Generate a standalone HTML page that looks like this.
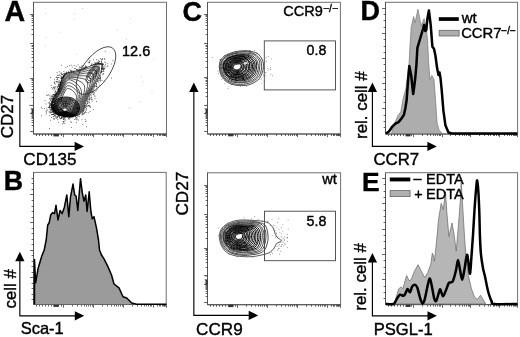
<!DOCTYPE html>
<html><head><meta charset="utf-8"><title>Figure</title>
<style>
html,body{margin:0;padding:0;background:#fff;}
svg{display:block;will-change:transform;}
text{font-family:"Liberation Sans",Arial,Helvetica,sans-serif;fill:#000;stroke:#000;stroke-width:0.4px;}
</style></head><body>
<svg width="520" height="337" viewBox="0 0 520 337">
<rect width="520" height="337" fill="#fff"/>
<rect x="33.5" y="2.3" width="133.0" height="131.7" fill="none" stroke="#707070" stroke-width="1"/><path d="M33.5 2.3V134.0H166.5" fill="none" stroke="#555" stroke-width="1"/>
<g stroke="#3a3a3a" stroke-width="0.8" fill="none"><path d="M33.5 14.5H30.1"/><path d="M33.5 43.5H30.1"/><path d="M33.5 78.5H30.1"/><path d="M33.5 105.5H30.1"/><path d="M33.5 34.5H31.6"/><path d="M33.5 29.5H31.6"/><path d="M33.5 25.5H31.6"/><path d="M33.5 22.5H31.6"/><path d="M33.5 20.5H31.6"/><path d="M33.5 18.5H31.6"/><path d="M33.5 16.5H31.6"/><path d="M33.5 15.5H31.6"/><path d="M33.5 67.5H31.6"/><path d="M33.5 61.5H31.6"/><path d="M33.5 57.5H31.6"/><path d="M33.5 54.5H31.6"/><path d="M33.5 51.5H31.6"/><path d="M33.5 48.5H31.6"/><path d="M33.5 46.5H31.6"/><path d="M33.5 45.5H31.6"/><path d="M33.5 97.5H31.6"/><path d="M33.5 92.5H31.6"/><path d="M33.5 89.5H31.6"/><path d="M33.5 86.5H31.6"/><path d="M33.5 84.5H31.6"/><path d="M33.5 82.5H31.6"/><path d="M33.5 80.5H31.6"/><path d="M33.5 79.5H31.6"/></g>
<path d="M30.2 108.6h3.4v4.8h-3.4l1.4-1.2v-2.4z" fill="#333"/><path d="M31.5 105.3h2.3" stroke="#555" stroke-width="0.7"/>
<g stroke="#3a3a3a" stroke-width="0.8" fill="none"><path d="M33.5 113.5H30.1"/><path d="M33.5 131.5H30.1"/><path d="M33.5 125.5H31.6"/><path d="M33.5 122.5H31.6"/><path d="M33.5 120.5H31.6"/><path d="M33.5 118.5H31.6"/><path d="M33.5 117.5H31.6"/><path d="M33.5 116.5H31.6"/><path d="M33.5 115.5H31.6"/><path d="M33.5 114.5H31.6"/></g>
<g stroke="#3a3a3a" stroke-width="0.75" fill="none"><path d="M63.5 134.0V137.2"/><path d="M93.5 134.0V137.2"/><path d="M123.5 134.0V137.2"/><path d="M153.5 134.0V137.2"/><path d="M166.5 134.0V137.2"/><path d="M72.5 134.0V136.0"/><path d="M77.5 134.0V136.0"/><path d="M81.5 134.0V136.0"/><path d="M84.5 134.0V136.0"/><path d="M86.5 134.0V136.0"/><path d="M88.5 134.0V136.0"/><path d="M90.5 134.0V136.0"/><path d="M92.5 134.0V136.0"/><path d="M102.5 134.0V136.0"/><path d="M107.5 134.0V136.0"/><path d="M111.5 134.0V136.0"/><path d="M114.5 134.0V136.0"/><path d="M116.5 134.0V136.0"/><path d="M118.5 134.0V136.0"/><path d="M120.5 134.0V136.0"/><path d="M122.5 134.0V136.0"/><path d="M132.5 134.0V136.0"/><path d="M137.5 134.0V136.0"/><path d="M141.5 134.0V136.0"/><path d="M144.5 134.0V136.0"/><path d="M146.5 134.0V136.0"/><path d="M148.5 134.0V136.0"/><path d="M150.5 134.0V136.0"/><path d="M151.5 134.0V136.0"/><path d="M157.5 134.0V136.0"/><path d="M159.5 134.0V136.0"/><path d="M160.5 134.0V136.0"/><path d="M162.5 134.0V136.0"/><path d="M163.5 134.0V136.0"/><path d="M164.5 134.0V136.0"/><path d="M164.5 134.0V136.0"/><path d="M165.5 134.0V136.0"/></g>
<rect x="53.4" y="134" width="5.5" height="2.4" fill="#333"/>
<g stroke="#3a3a3a" stroke-width="0.8"><path d="M36.5 134v2"/><path d="M39.5 134v2"/><path d="M42.5 134v2"/><path d="M45.5 134v2"/><path d="M48.5 134v2"/><path d="M51.5 134v2"/><path d="M61.5 134v2"/></g>
<g fill="#333"><rect x="97.0" y="62.8" width="0.8" height="0.8"/><rect x="55.3" y="116.0" width="0.8" height="0.8"/><rect x="104.4" y="59.2" width="0.8" height="0.8"/><rect x="58.5" y="84.2" width="0.8" height="0.8"/><rect x="50.4" y="110.2" width="0.8" height="0.8"/><rect x="53.0" y="111.2" width="0.8" height="0.8"/><rect x="63.0" y="73.4" width="0.8" height="0.8"/><rect x="53.4" y="113.1" width="0.8" height="0.8"/><rect x="57.8" y="75.1" width="0.8" height="0.8"/><rect x="82.8" y="67.0" width="0.8" height="0.8"/><rect x="69.9" y="121.4" width="0.8" height="0.8"/><rect x="55.5" y="90.9" width="0.8" height="0.8"/><rect x="58.6" y="81.7" width="0.8" height="0.8"/><rect x="49.6" y="108.4" width="0.8" height="0.8"/><rect x="89.0" y="98.8" width="0.8" height="0.8"/><rect x="96.2" y="59.4" width="0.8" height="0.8"/><rect x="101.2" y="60.6" width="0.8" height="0.8"/><rect x="61.4" y="77.9" width="0.8" height="0.8"/><rect x="89.5" y="102.6" width="0.8" height="0.8"/><rect x="84.1" y="68.2" width="0.8" height="0.8"/><rect x="86.2" y="109.6" width="0.8" height="0.8"/><rect x="55.9" y="92.0" width="0.8" height="0.8"/><rect x="49.6" y="106.8" width="0.8" height="0.8"/><rect x="91.6" y="64.9" width="0.8" height="0.8"/><rect x="89.7" y="97.7" width="0.8" height="0.8"/><rect x="49.9" y="105.3" width="0.8" height="0.8"/><rect x="49.8" y="112.2" width="0.8" height="0.8"/><rect x="63.2" y="121.2" width="0.8" height="0.8"/><rect x="87.8" y="62.3" width="0.8" height="0.8"/><rect x="97.8" y="62.4" width="0.8" height="0.8"/><rect x="57.2" y="87.2" width="0.8" height="0.8"/><rect x="61.1" y="80.2" width="0.8" height="0.8"/><rect x="58.8" y="71.3" width="0.8" height="0.8"/><rect x="92.3" y="91.5" width="0.8" height="0.8"/><rect x="79.3" y="114.0" width="0.8" height="0.8"/><rect x="97.9" y="79.7" width="0.8" height="0.8"/><rect x="99.6" y="80.0" width="0.8" height="0.8"/><rect x="101.2" y="71.4" width="0.8" height="0.8"/><rect x="54.9" y="90.6" width="0.8" height="0.8"/><rect x="59.9" y="117.8" width="0.8" height="0.8"/><rect x="69.2" y="72.1" width="0.8" height="0.8"/><rect x="78.8" y="116.4" width="0.8" height="0.8"/><rect x="54.5" y="93.6" width="0.8" height="0.8"/><rect x="51.0" y="117.0" width="0.8" height="0.8"/><rect x="78.5" y="115.5" width="0.8" height="0.8"/><rect x="51.3" y="101.3" width="0.8" height="0.8"/><rect x="59.5" y="84.4" width="0.8" height="0.8"/><rect x="55.3" y="90.9" width="0.8" height="0.8"/><rect x="51.0" y="104.2" width="0.8" height="0.8"/><rect x="51.3" y="98.3" width="0.8" height="0.8"/><rect x="49.2" y="106.3" width="0.8" height="0.8"/><rect x="47.5" y="95.2" width="0.8" height="0.8"/><rect x="99.3" y="63.9" width="0.8" height="0.8"/><rect x="87.3" y="102.7" width="0.8" height="0.8"/><rect x="89.9" y="94.0" width="0.8" height="0.8"/><rect x="95.4" y="63.1" width="0.8" height="0.8"/><rect x="58.2" y="88.1" width="0.8" height="0.8"/><rect x="86.2" y="108.4" width="0.8" height="0.8"/><rect x="58.4" y="115.9" width="0.8" height="0.8"/><rect x="51.0" y="106.4" width="0.8" height="0.8"/><rect x="102.2" y="63.6" width="0.8" height="0.8"/><rect x="61.4" y="72.5" width="0.8" height="0.8"/><rect x="95.1" y="62.8" width="0.8" height="0.8"/><rect x="57.5" y="77.3" width="0.8" height="0.8"/><rect x="61.3" y="76.5" width="0.8" height="0.8"/><rect x="54.4" y="118.2" width="0.8" height="0.8"/><rect x="93.0" y="94.1" width="0.8" height="0.8"/><rect x="104.3" y="58.2" width="0.8" height="0.8"/><rect x="102.5" y="63.6" width="0.8" height="0.8"/><rect x="60.9" y="77.3" width="0.8" height="0.8"/><rect x="91.3" y="64.0" width="0.8" height="0.8"/><rect x="59.7" y="118.3" width="0.8" height="0.8"/><rect x="51.3" y="105.2" width="0.8" height="0.8"/><rect x="104.2" y="68.0" width="0.8" height="0.8"/><rect x="87.8" y="101.4" width="0.8" height="0.8"/><rect x="93.1" y="59.5" width="0.8" height="0.8"/><rect x="104.4" y="65.5" width="0.8" height="0.8"/><rect x="51.3" y="106.0" width="0.8" height="0.8"/><rect x="51.6" y="97.7" width="0.8" height="0.8"/><rect x="92.5" y="88.7" width="0.8" height="0.8"/><rect x="88.8" y="98.4" width="0.8" height="0.8"/><rect x="77.0" y="114.8" width="0.8" height="0.8"/><rect x="45.6" y="103.6" width="0.8" height="0.8"/><rect x="97.1" y="81.0" width="0.8" height="0.8"/><rect x="59.4" y="84.6" width="0.8" height="0.8"/><rect x="86.4" y="106.2" width="0.8" height="0.8"/><rect x="71.8" y="66.7" width="0.8" height="0.8"/><rect x="52.0" y="111.5" width="0.8" height="0.8"/><rect x="97.7" y="86.7" width="0.8" height="0.8"/><rect x="87.8" y="112.4" width="0.8" height="0.8"/><rect x="85.7" y="103.3" width="0.8" height="0.8"/><rect x="87.1" y="102.9" width="0.8" height="0.8"/><rect x="54.8" y="86.8" width="0.8" height="0.8"/><rect x="52.9" y="96.6" width="0.8" height="0.8"/><rect x="51.8" y="100.6" width="0.8" height="0.8"/><rect x="84.5" y="109.0" width="0.8" height="0.8"/><rect x="53.5" y="97.9" width="0.8" height="0.8"/><rect x="56.6" y="81.5" width="0.8" height="0.8"/><rect x="84.0" y="106.5" width="0.8" height="0.8"/><rect x="49.8" y="109.1" width="0.8" height="0.8"/><rect x="83.5" y="108.7" width="0.8" height="0.8"/><rect x="70.9" y="70.0" width="0.8" height="0.8"/><rect x="89.2" y="96.4" width="0.8" height="0.8"/><rect x="84.8" y="118.9" width="0.8" height="0.8"/><rect x="77.6" y="64.5" width="0.8" height="0.8"/><rect x="61.2" y="79.8" width="0.8" height="0.8"/><rect x="51.4" y="101.7" width="0.8" height="0.8"/><rect x="63.2" y="76.1" width="0.8" height="0.8"/><rect x="88.7" y="61.9" width="0.8" height="0.8"/><rect x="54.5" y="92.1" width="0.8" height="0.8"/><rect x="101.3" y="59.2" width="0.8" height="0.8"/><rect x="103.7" y="80.7" width="0.8" height="0.8"/><rect x="101.3" y="70.8" width="0.8" height="0.8"/><rect x="61.3" y="77.0" width="0.8" height="0.8"/><rect x="85.0" y="107.3" width="0.8" height="0.8"/><rect x="100.7" y="61.3" width="0.8" height="0.8"/><rect x="61.5" y="117.4" width="0.8" height="0.8"/><rect x="60.9" y="117.6" width="0.8" height="0.8"/><rect x="83.1" y="68.6" width="0.8" height="0.8"/><rect x="65.7" y="73.2" width="0.8" height="0.8"/><rect x="67.2" y="66.0" width="0.8" height="0.8"/><rect x="57.9" y="89.7" width="0.8" height="0.8"/><rect x="100.1" y="78.6" width="0.8" height="0.8"/><rect x="70.3" y="70.1" width="0.8" height="0.8"/><rect x="85.0" y="110.9" width="0.8" height="0.8"/><rect x="48.6" y="111.4" width="0.8" height="0.8"/><rect x="58.5" y="88.7" width="0.8" height="0.8"/><rect x="57.5" y="119.3" width="0.8" height="0.8"/><rect x="51.2" y="106.9" width="0.8" height="0.8"/><rect x="76.3" y="69.3" width="0.8" height="0.8"/><rect x="97.5" y="62.6" width="0.8" height="0.8"/><rect x="73.3" y="71.6" width="0.8" height="0.8"/><rect x="60.9" y="64.8" width="0.8" height="0.8"/><rect x="66.3" y="72.6" width="0.8" height="0.8"/><rect x="85.1" y="66.4" width="0.8" height="0.8"/><rect x="58.7" y="82.4" width="0.8" height="0.8"/><rect x="53.6" y="89.6" width="0.8" height="0.8"/><rect x="66.4" y="73.2" width="0.8" height="0.8"/><rect x="83.8" y="108.1" width="0.8" height="0.8"/><rect x="91.5" y="93.6" width="0.8" height="0.8"/><rect x="100.0" y="77.1" width="0.8" height="0.8"/><rect x="101.7" y="71.2" width="0.8" height="0.8"/><rect x="60.8" y="78.4" width="0.8" height="0.8"/><rect x="54.3" y="95.1" width="0.8" height="0.8"/><rect x="53.2" y="110.9" width="0.8" height="0.8"/><rect x="71.1" y="72.0" width="0.8" height="0.8"/><rect x="103.5" y="69.1" width="0.8" height="0.8"/><rect x="85.3" y="65.3" width="0.8" height="0.8"/><rect x="54.6" y="112.9" width="0.8" height="0.8"/><rect x="97.7" y="80.9" width="0.8" height="0.8"/><rect x="97.7" y="62.1" width="0.8" height="0.8"/><rect x="57.3" y="74.8" width="0.8" height="0.8"/><rect x="60.6" y="82.9" width="0.8" height="0.8"/><rect x="102.4" y="64.5" width="0.8" height="0.8"/><rect x="56.5" y="81.7" width="0.8" height="0.8"/><rect x="52.0" y="108.7" width="0.8" height="0.8"/><rect x="102.3" y="68.0" width="0.8" height="0.8"/><rect x="81.1" y="68.8" width="0.8" height="0.8"/><rect x="63.4" y="121.7" width="0.8" height="0.8"/><rect x="52.8" y="94.0" width="0.8" height="0.8"/><rect x="104.0" y="68.0" width="0.8" height="0.8"/><rect x="94.0" y="92.6" width="0.8" height="0.8"/><rect x="49.2" y="98.4" width="0.8" height="0.8"/><rect x="84.8" y="111.9" width="0.8" height="0.8"/><rect x="86.7" y="104.7" width="0.8" height="0.8"/><rect x="85.6" y="112.1" width="0.8" height="0.8"/><rect x="57.0" y="117.0" width="0.8" height="0.8"/><rect x="62.1" y="78.5" width="0.8" height="0.8"/><rect x="102.6" y="63.5" width="0.8" height="0.8"/><rect x="96.2" y="85.9" width="0.8" height="0.8"/><rect x="75.9" y="117.2" width="0.8" height="0.8"/><rect x="61.2" y="115.8" width="0.8" height="0.8"/><rect x="82.1" y="111.6" width="0.8" height="0.8"/><rect x="88.3" y="105.1" width="0.8" height="0.8"/><rect x="75.8" y="65.8" width="0.8" height="0.8"/><rect x="64.5" y="74.3" width="0.8" height="0.8"/><rect x="95.1" y="85.6" width="0.8" height="0.8"/><rect x="87.2" y="101.2" width="0.8" height="0.8"/><rect x="52.2" y="114.0" width="0.8" height="0.8"/><rect x="50.9" y="107.2" width="0.8" height="0.8"/><rect x="84.3" y="68.0" width="0.8" height="0.8"/><rect x="91.6" y="91.2" width="0.8" height="0.8"/><rect x="50.2" y="100.4" width="0.8" height="0.8"/><rect x="85.4" y="67.2" width="0.8" height="0.8"/><rect x="94.3" y="85.6" width="0.8" height="0.8"/><rect x="82.3" y="124.1" width="0.8" height="0.8"/><rect x="92.7" y="90.8" width="0.8" height="0.8"/><rect x="82.2" y="113.8" width="0.8" height="0.8"/><rect x="69.0" y="65.3" width="0.8" height="0.8"/><rect x="59.9" y="84.5" width="0.8" height="0.8"/><rect x="85.6" y="105.4" width="0.8" height="0.8"/><rect x="84.9" y="104.9" width="0.8" height="0.8"/><rect x="102.1" y="59.0" width="0.8" height="0.8"/><rect x="89.5" y="95.0" width="0.8" height="0.8"/><rect x="88.9" y="98.8" width="0.8" height="0.8"/><rect x="54.2" y="95.0" width="0.8" height="0.8"/><rect x="53.6" y="98.1" width="0.8" height="0.8"/><rect x="95.4" y="64.0" width="0.8" height="0.8"/><rect x="55.8" y="77.0" width="0.8" height="0.8"/><rect x="80.4" y="69.6" width="0.8" height="0.8"/><rect x="102.9" y="70.5" width="0.8" height="0.8"/><rect x="104.4" y="61.6" width="0.8" height="0.8"/><rect x="55.6" y="113.4" width="0.8" height="0.8"/><rect x="84.5" y="67.9" width="0.8" height="0.8"/><rect x="70.9" y="71.1" width="0.8" height="0.8"/><rect x="101.8" y="63.2" width="0.8" height="0.8"/><rect x="56.9" y="117.3" width="0.8" height="0.8"/><rect x="77.3" y="118.4" width="0.8" height="0.8"/><rect x="51.7" y="111.5" width="0.8" height="0.8"/><rect x="55.4" y="93.6" width="0.8" height="0.8"/><rect x="51.2" y="112.2" width="0.8" height="0.8"/><rect x="57.6" y="88.3" width="0.8" height="0.8"/><rect x="81.5" y="66.0" width="0.8" height="0.8"/><rect x="70.6" y="71.5" width="0.8" height="0.8"/><rect x="89.5" y="97.3" width="0.8" height="0.8"/><rect x="59.0" y="87.3" width="0.8" height="0.8"/><rect x="82.6" y="113.4" width="0.8" height="0.8"/><rect x="63.0" y="75.6" width="0.8" height="0.8"/><rect x="96.4" y="84.7" width="0.8" height="0.8"/><rect x="61.3" y="77.8" width="0.8" height="0.8"/><rect x="51.1" y="109.1" width="0.8" height="0.8"/><rect x="71.5" y="116.6" width="0.8" height="0.8"/><rect x="102.6" y="73.6" width="0.8" height="0.8"/><rect x="59.6" y="82.2" width="0.8" height="0.8"/><rect x="53.1" y="114.2" width="0.8" height="0.8"/><rect x="98.5" y="62.3" width="0.8" height="0.8"/><rect x="54.0" y="82.1" width="0.8" height="0.8"/><rect x="102.7" y="66.4" width="0.8" height="0.8"/><rect x="89.2" y="62.3" width="0.8" height="0.8"/><rect x="63.3" y="117.7" width="0.8" height="0.8"/><rect x="87.6" y="102.5" width="0.8" height="0.8"/><rect x="46.1" y="112.4" width="0.8" height="0.8"/><rect x="85.7" y="120.7" width="0.8" height="0.8"/><rect x="64.7" y="73.9" width="0.8" height="0.8"/><rect x="52.7" y="94.8" width="0.8" height="0.8"/><rect x="100.1" y="80.7" width="0.8" height="0.8"/><rect x="58.3" y="115.6" width="0.8" height="0.8"/><rect x="53.4" y="112.5" width="0.8" height="0.8"/><rect x="54.2" y="94.0" width="0.8" height="0.8"/><rect x="98.1" y="78.4" width="0.8" height="0.8"/><rect x="45.7" y="113.6" width="0.8" height="0.8"/><rect x="60.0" y="82.4" width="0.8" height="0.8"/><rect x="64.5" y="117.5" width="0.8" height="0.8"/><rect x="96.0" y="83.6" width="0.8" height="0.8"/><rect x="63.3" y="75.7" width="0.8" height="0.8"/><rect x="60.8" y="77.9" width="0.8" height="0.8"/><rect x="78.5" y="69.9" width="0.8" height="0.8"/><rect x="101.1" y="72.3" width="0.8" height="0.8"/><rect x="97.5" y="80.4" width="0.8" height="0.8"/><rect x="51.3" y="114.1" width="0.8" height="0.8"/><rect x="100.6" y="63.8" width="0.8" height="0.8"/><rect x="86.2" y="66.1" width="0.8" height="0.8"/><rect x="60.3" y="81.7" width="0.8" height="0.8"/><rect x="59.8" y="83.3" width="0.8" height="0.8"/><rect x="79.5" y="67.5" width="0.8" height="0.8"/><rect x="57.9" y="85.1" width="0.8" height="0.8"/><rect x="52.4" y="110.7" width="0.8" height="0.8"/><rect x="101.8" y="64.9" width="0.8" height="0.8"/><rect x="52.0" y="95.6" width="0.8" height="0.8"/><rect x="52.0" y="88.5" width="0.8" height="0.8"/><rect x="104.8" y="50.9" width="0.8" height="0.8"/><rect x="57.9" y="89.3" width="0.8" height="0.8"/><rect x="82.7" y="109.8" width="0.8" height="0.8"/><rect x="110.8" y="63.6" width="0.8" height="0.8"/><rect x="95.6" y="82.9" width="0.8" height="0.8"/><rect x="66.3" y="71.7" width="0.8" height="0.8"/><rect x="49.1" y="101.8" width="0.8" height="0.8"/><rect x="105.2" y="63.9" width="0.8" height="0.8"/><rect x="103.4" y="70.9" width="0.8" height="0.8"/><rect x="54.2" y="79.4" width="0.8" height="0.8"/><rect x="57.1" y="81.4" width="0.8" height="0.8"/><rect x="92.4" y="90.9" width="0.8" height="0.8"/><rect x="101.8" y="64.7" width="0.8" height="0.8"/><rect x="51.5" y="105.3" width="0.8" height="0.8"/><rect x="55.9" y="76.7" width="0.8" height="0.8"/><rect x="91.7" y="64.9" width="0.8" height="0.8"/><rect x="53.5" y="116.2" width="0.8" height="0.8"/><rect x="96.5" y="63.2" width="0.8" height="0.8"/><rect x="51.9" y="110.6" width="0.8" height="0.8"/><rect x="88.9" y="99.4" width="0.8" height="0.8"/><rect x="106.7" y="66.2" width="0.8" height="0.8"/><rect x="92.3" y="92.2" width="0.8" height="0.8"/><rect x="56.4" y="118.2" width="0.8" height="0.8"/><rect x="55.1" y="93.9" width="0.8" height="0.8"/><rect x="94.5" y="61.9" width="0.8" height="0.8"/><rect x="50.8" y="107.9" width="0.8" height="0.8"/><rect x="58.1" y="89.9" width="0.8" height="0.8"/><rect x="53.3" y="114.1" width="0.8" height="0.8"/><rect x="54.0" y="83.1" width="0.8" height="0.8"/><rect x="52.0" y="108.7" width="0.8" height="0.8"/><rect x="40.9" y="106.8" width="0.8" height="0.8"/><rect x="95.9" y="82.8" width="0.8" height="0.8"/><rect x="96.3" y="86.5" width="0.8" height="0.8"/><rect x="74.4" y="119.1" width="0.8" height="0.8"/><rect x="52.5" y="98.9" width="0.8" height="0.8"/><rect x="72.5" y="70.5" width="0.8" height="0.8"/><rect x="68.1" y="72.0" width="0.8" height="0.8"/><rect x="62.1" y="77.0" width="0.8" height="0.8"/><rect x="71.6" y="116.7" width="0.8" height="0.8"/><rect x="78.0" y="68.7" width="0.8" height="0.8"/><rect x="64.4" y="75.1" width="0.8" height="0.8"/><rect x="91.4" y="90.4" width="0.8" height="0.8"/><rect x="87.2" y="100.7" width="0.8" height="0.8"/><rect x="91.6" y="89.7" width="0.8" height="0.8"/><rect x="80.2" y="69.7" width="0.8" height="0.8"/><rect x="71.6" y="116.7" width="0.8" height="0.8"/><rect x="82.7" y="112.7" width="0.8" height="0.8"/><rect x="75.2" y="68.1" width="0.8" height="0.8"/><rect x="63.1" y="118.7" width="0.8" height="0.8"/><rect x="98.5" y="63.0" width="0.8" height="0.8"/><rect x="29.4" y="104.8" width="0.8" height="0.8"/><rect x="52.2" y="114.2" width="0.8" height="0.8"/><rect x="57.5" y="77.2" width="0.8" height="0.8"/><rect x="98.4" y="78.1" width="0.8" height="0.8"/><rect x="78.6" y="70.3" width="0.8" height="0.8"/><rect x="88.4" y="96.6" width="0.8" height="0.8"/><rect x="50.5" y="99.6" width="0.8" height="0.8"/><rect x="56.1" y="93.5" width="0.8" height="0.8"/><rect x="57.7" y="88.8" width="0.8" height="0.8"/><rect x="85.3" y="66.8" width="0.8" height="0.8"/><rect x="54.1" y="115.0" width="0.8" height="0.8"/><rect x="98.7" y="64.1" width="0.8" height="0.8"/><rect x="100.9" y="63.2" width="0.8" height="0.8"/><rect x="101.6" y="66.0" width="0.8" height="0.8"/><rect x="53.7" y="88.3" width="0.8" height="0.8"/><rect x="102.2" y="68.0" width="0.8" height="0.8"/><rect x="57.8" y="90.7" width="0.8" height="0.8"/><rect x="49.5" y="94.8" width="0.8" height="0.8"/><rect x="45.7" y="111.1" width="0.8" height="0.8"/><rect x="86.0" y="104.4" width="0.8" height="0.8"/><rect x="51.4" y="87.2" width="0.8" height="0.8"/><rect x="48.8" y="103.1" width="0.8" height="0.8"/><rect x="55.8" y="80.9" width="0.8" height="0.8"/><rect x="51.2" y="111.6" width="0.8" height="0.8"/><rect x="52.3" y="114.0" width="0.8" height="0.8"/><rect x="49.1" y="106.1" width="0.8" height="0.8"/><rect x="53.6" y="86.4" width="0.8" height="0.8"/><rect x="101.7" y="68.7" width="0.8" height="0.8"/><rect x="90.8" y="92.6" width="0.8" height="0.8"/><rect x="101.3" y="71.3" width="0.8" height="0.8"/><rect x="97.7" y="63.3" width="0.8" height="0.8"/><rect x="57.8" y="83.9" width="0.8" height="0.8"/><rect x="53.2" y="112.4" width="0.8" height="0.8"/><rect x="103.0" y="67.6" width="0.8" height="0.8"/><rect x="84.9" y="67.3" width="0.8" height="0.8"/><rect x="61.6" y="74.2" width="0.8" height="0.8"/><rect x="94.3" y="85.9" width="0.8" height="0.8"/><rect x="59.0" y="116.9" width="0.8" height="0.8"/><rect x="61.9" y="74.3" width="0.8" height="0.8"/><rect x="96.7" y="88.7" width="0.8" height="0.8"/><rect x="102.0" y="65.0" width="0.8" height="0.8"/><rect x="103.3" y="73.0" width="0.8" height="0.8"/><rect x="83.8" y="107.2" width="0.8" height="0.8"/><rect x="50.6" y="97.7" width="0.8" height="0.8"/><rect x="88.3" y="105.4" width="0.8" height="0.8"/><rect x="104.7" y="66.7" width="0.8" height="0.8"/><rect x="49.2" y="128.2" width="0.8" height="0.8"/><rect x="41.7" y="108.3" width="0.8" height="0.8"/><rect x="94.3" y="94.8" width="0.8" height="0.8"/><rect x="55.6" y="86.3" width="0.8" height="0.8"/><rect x="61.1" y="77.9" width="0.8" height="0.8"/><rect x="65.5" y="66.8" width="0.8" height="0.8"/><rect x="76.9" y="69.2" width="0.8" height="0.8"/><rect x="70.8" y="64.8" width="0.8" height="0.8"/><rect x="58.7" y="80.0" width="0.8" height="0.8"/><rect x="63.1" y="77.2" width="0.8" height="0.8"/><rect x="55.7" y="88.7" width="0.8" height="0.8"/><rect x="73.8" y="65.0" width="0.8" height="0.8"/><rect x="58.7" y="86.1" width="0.8" height="0.8"/><rect x="89.6" y="106.2" width="0.8" height="0.8"/><rect x="95.9" y="86.0" width="0.8" height="0.8"/><rect x="50.1" y="103.3" width="0.8" height="0.8"/><rect x="102.1" y="69.2" width="0.8" height="0.8"/><rect x="102.9" y="70.5" width="0.8" height="0.8"/><rect x="98.4" y="63.8" width="0.8" height="0.8"/><rect x="59.7" y="75.3" width="0.8" height="0.8"/><rect x="54.3" y="114.9" width="0.8" height="0.8"/><rect x="89.2" y="57.4" width="0.8" height="0.8"/><rect x="63.3" y="122.7" width="0.8" height="0.8"/><rect x="58.6" y="115.6" width="0.8" height="0.8"/><rect x="84.7" y="66.9" width="0.8" height="0.8"/><rect x="84.4" y="105.6" width="0.8" height="0.8"/><rect x="92.9" y="93.6" width="0.8" height="0.8"/><rect x="63.6" y="118.7" width="0.8" height="0.8"/><rect x="79.2" y="69.1" width="0.8" height="0.8"/><rect x="62.9" y="75.9" width="0.8" height="0.8"/><rect x="52.0" y="96.7" width="0.8" height="0.8"/><rect x="90.2" y="92.3" width="0.8" height="0.8"/><rect x="63.8" y="73.5" width="0.8" height="0.8"/><rect x="46.9" y="109.7" width="0.8" height="0.8"/><rect x="70.6" y="71.4" width="0.8" height="0.8"/><rect x="62.7" y="121.0" width="0.8" height="0.8"/><rect x="101.4" y="62.4" width="0.8" height="0.8"/><rect x="83.0" y="110.3" width="0.8" height="0.8"/><rect x="63.8" y="118.5" width="0.8" height="0.8"/><rect x="102.0" y="65.6" width="0.8" height="0.8"/><rect x="49.4" y="105.1" width="0.8" height="0.8"/><rect x="59.7" y="83.9" width="0.8" height="0.8"/><rect x="83.7" y="110.0" width="0.8" height="0.8"/><rect x="58.7" y="88.2" width="0.8" height="0.8"/><rect x="49.8" y="112.7" width="0.8" height="0.8"/><rect x="87.4" y="98.4" width="0.8" height="0.8"/><rect x="99.2" y="78.2" width="0.8" height="0.8"/><rect x="111.2" y="77.7" width="0.8" height="0.8"/><rect x="68.7" y="72.6" width="0.8" height="0.8"/><rect x="100.3" y="58.3" width="0.8" height="0.8"/><rect x="74.4" y="70.6" width="0.8" height="0.8"/><rect x="76.0" y="118.6" width="0.8" height="0.8"/><rect x="81.9" y="113.2" width="0.8" height="0.8"/><rect x="58.2" y="83.8" width="0.8" height="0.8"/><rect x="57.5" y="89.8" width="0.8" height="0.8"/><rect x="58.6" y="76.9" width="0.8" height="0.8"/><rect x="90.4" y="65.2" width="0.8" height="0.8"/><rect x="59.8" y="72.7" width="0.8" height="0.8"/><rect x="78.2" y="119.6" width="0.8" height="0.8"/><rect x="57.2" y="116.2" width="0.8" height="0.8"/><rect x="63.6" y="74.9" width="0.8" height="0.8"/><rect x="58.4" y="81.5" width="0.8" height="0.8"/><rect x="65.5" y="116.9" width="0.8" height="0.8"/><rect x="63.0" y="118.9" width="0.8" height="0.8"/><rect x="58.1" y="89.2" width="0.8" height="0.8"/><rect x="64.5" y="116.8" width="0.8" height="0.8"/><rect x="51.2" y="114.3" width="0.8" height="0.8"/><rect x="48.1" y="107.1" width="0.8" height="0.8"/><rect x="57.5" y="77.2" width="0.8" height="0.8"/><rect x="48.1" y="106.9" width="0.8" height="0.8"/><rect x="102.2" y="64.9" width="0.8" height="0.8"/><rect x="44.0" y="108.2" width="0.8" height="0.8"/><rect x="49.2" y="106.7" width="0.8" height="0.8"/><rect x="82.8" y="68.5" width="0.8" height="0.8"/><rect x="59.5" y="82.7" width="0.8" height="0.8"/><rect x="65.9" y="72.5" width="0.8" height="0.8"/><rect x="79.1" y="66.5" width="0.8" height="0.8"/><rect x="96.2" y="62.4" width="0.8" height="0.8"/><rect x="88.9" y="101.6" width="0.8" height="0.8"/><rect x="58.6" y="115.0" width="0.8" height="0.8"/><rect x="83.0" y="111.2" width="0.8" height="0.8"/><rect x="54.1" y="112.7" width="0.8" height="0.8"/><rect x="51.1" y="107.2" width="0.8" height="0.8"/><rect x="101.3" y="71.6" width="0.8" height="0.8"/><rect x="55.8" y="116.1" width="0.8" height="0.8"/><rect x="91.8" y="100.8" width="0.8" height="0.8"/><rect x="96.2" y="101.2" width="0.8" height="0.8"/><rect x="89.7" y="111.2" width="0.8" height="0.8"/><rect x="89.8" y="60.5" width="0.8" height="0.8"/><rect x="63.7" y="75.9" width="0.8" height="0.8"/><rect x="41.0" y="115.4" width="0.8" height="0.8"/><rect x="75.0" y="118.5" width="0.8" height="0.8"/><rect x="102.0" y="58.0" width="0.8" height="0.8"/><rect x="49.7" y="109.4" width="0.8" height="0.8"/><rect x="98.2" y="63.3" width="0.8" height="0.8"/><rect x="77.5" y="115.9" width="0.8" height="0.8"/><rect x="65.6" y="73.3" width="0.8" height="0.8"/><rect x="54.7" y="113.9" width="0.8" height="0.8"/><rect x="55.5" y="92.4" width="0.8" height="0.8"/><rect x="75.4" y="116.0" width="0.8" height="0.8"/><rect x="93.6" y="87.6" width="0.8" height="0.8"/><rect x="61.0" y="77.1" width="0.8" height="0.8"/><rect x="63.4" y="75.4" width="0.8" height="0.8"/><rect x="46.1" y="94.7" width="0.8" height="0.8"/><rect x="93.9" y="64.1" width="0.8" height="0.8"/><rect x="62.8" y="76.7" width="0.8" height="0.8"/><rect x="49.1" y="104.4" width="0.8" height="0.8"/><rect x="50.1" y="77.2" width="0.8" height="0.8"/><rect x="86.0" y="66.5" width="0.8" height="0.8"/><rect x="53.7" y="81.8" width="0.8" height="0.8"/><rect x="68.0" y="71.4" width="0.8" height="0.8"/><rect x="53.7" y="119.0" width="0.8" height="0.8"/><rect x="99.6" y="77.6" width="0.8" height="0.8"/><rect x="82.7" y="68.6" width="0.8" height="0.8"/><rect x="102.4" y="64.0" width="0.8" height="0.8"/><rect x="100.1" y="77.4" width="0.8" height="0.8"/><rect x="100.1" y="78.6" width="0.8" height="0.8"/><rect x="65.1" y="119.6" width="0.8" height="0.8"/><rect x="51.6" y="101.3" width="0.8" height="0.8"/><rect x="53.0" y="98.0" width="0.8" height="0.8"/><rect x="103.4" y="68.1" width="0.8" height="0.8"/><rect x="76.2" y="69.2" width="0.8" height="0.8"/><rect x="59.2" y="116.6" width="0.8" height="0.8"/><rect x="58.7" y="85.4" width="0.8" height="0.8"/><rect x="61.0" y="117.5" width="0.8" height="0.8"/><rect x="49.5" y="104.9" width="0.8" height="0.8"/><rect x="50.8" y="85.0" width="0.8" height="0.8"/><rect x="60.7" y="81.8" width="0.8" height="0.8"/><rect x="69.3" y="117.2" width="0.8" height="0.8"/><rect x="91.1" y="97.3" width="0.8" height="0.8"/><rect x="100.3" y="63.1" width="0.8" height="0.8"/><rect x="98.5" y="82.3" width="0.8" height="0.8"/><rect x="107.4" y="63.4" width="0.8" height="0.8"/><rect x="100.5" y="63.6" width="0.8" height="0.8"/><rect x="101.4" y="67.5" width="0.8" height="0.8"/><rect x="99.5" y="79.5" width="0.8" height="0.8"/><rect x="99.8" y="64.0" width="0.8" height="0.8"/><rect x="88.9" y="60.6" width="0.8" height="0.8"/><rect x="86.1" y="126.4" width="0.8" height="0.8"/><rect x="101.7" y="67.6" width="0.8" height="0.8"/><rect x="49.2" y="106.8" width="0.8" height="0.8"/><rect x="91.0" y="99.4" width="0.8" height="0.8"/><rect x="52.4" y="95.8" width="0.8" height="0.8"/><rect x="99.7" y="75.9" width="0.8" height="0.8"/><rect x="76.4" y="119.5" width="0.8" height="0.8"/><rect x="94.5" y="96.0" width="0.8" height="0.8"/><rect x="74.2" y="68.1" width="0.8" height="0.8"/><rect x="99.6" y="77.5" width="0.8" height="0.8"/><rect x="69.5" y="69.4" width="0.8" height="0.8"/><rect x="93.0" y="64.1" width="0.8" height="0.8"/><rect x="50.7" y="106.9" width="0.8" height="0.8"/><rect x="86.6" y="67.4" width="0.8" height="0.8"/><rect x="64.3" y="120.7" width="0.8" height="0.8"/><rect x="54.8" y="94.3" width="0.8" height="0.8"/><rect x="73.1" y="116.5" width="0.8" height="0.8"/><rect x="51.1" y="106.6" width="0.8" height="0.8"/><rect x="47.8" y="102.3" width="0.8" height="0.8"/><rect x="58.3" y="86.2" width="0.8" height="0.8"/><rect x="53.3" y="96.3" width="0.8" height="0.8"/><rect x="81.6" y="119.4" width="0.8" height="0.8"/><rect x="46.4" y="109.8" width="0.8" height="0.8"/><rect x="80.7" y="66.7" width="0.8" height="0.8"/><rect x="89.2" y="106.3" width="0.8" height="0.8"/><rect x="52.0" y="100.5" width="0.8" height="0.8"/><rect x="64.3" y="72.7" width="0.8" height="0.8"/><rect x="81.5" y="114.5" width="0.8" height="0.8"/><rect x="55.8" y="93.3" width="0.8" height="0.8"/><rect x="53.2" y="87.2" width="0.8" height="0.8"/><rect x="63.2" y="117.2" width="0.8" height="0.8"/><rect x="68.9" y="117.5" width="0.8" height="0.8"/><rect x="96.0" y="84.4" width="0.8" height="0.8"/><rect x="51.3" y="109.9" width="0.8" height="0.8"/><rect x="64.7" y="116.6" width="0.8" height="0.8"/><rect x="95.1" y="64.2" width="0.8" height="0.8"/><rect x="94.7" y="98.4" width="0.8" height="0.8"/><rect x="55.1" y="114.8" width="0.8" height="0.8"/><rect x="49.7" y="96.6" width="0.8" height="0.8"/><rect x="101.2" y="60.8" width="0.8" height="0.8"/><rect x="75.1" y="116.3" width="0.8" height="0.8"/><rect x="100.0" y="74.8" width="0.8" height="0.8"/><rect x="52.6" y="111.6" width="0.8" height="0.8"/><rect x="90.9" y="95.6" width="0.8" height="0.8"/><rect x="76.4" y="69.8" width="0.8" height="0.8"/><rect x="57.4" y="78.6" width="0.8" height="0.8"/><rect x="91.6" y="63.3" width="0.8" height="0.8"/><rect x="53.3" y="94.3" width="0.8" height="0.8"/><rect x="53.7" y="114.6" width="0.8" height="0.8"/><rect x="101.4" y="68.5" width="0.8" height="0.8"/><rect x="78.9" y="70.2" width="0.8" height="0.8"/><rect x="90.7" y="98.7" width="0.8" height="0.8"/><rect x="82.8" y="114.1" width="0.8" height="0.8"/><rect x="52.9" y="94.2" width="0.8" height="0.8"/><rect x="49.8" y="110.9" width="0.8" height="0.8"/><rect x="93.6" y="87.0" width="0.8" height="0.8"/><rect x="58.2" y="85.4" width="0.8" height="0.8"/><rect x="50.9" y="98.6" width="0.8" height="0.8"/><rect x="101.4" y="64.1" width="0.8" height="0.8"/><rect x="83.9" y="67.8" width="0.8" height="0.8"/><rect x="79.7" y="69.9" width="0.8" height="0.8"/><rect x="60.1" y="118.3" width="0.8" height="0.8"/><rect x="53.3" y="114.0" width="0.8" height="0.8"/><rect x="51.9" y="99.2" width="0.8" height="0.8"/><rect x="101.4" y="67.8" width="0.8" height="0.8"/><rect x="112.5" y="60.0" width="0.8" height="0.8"/><rect x="54.3" y="94.7" width="0.8" height="0.8"/><rect x="50.0" y="104.3" width="0.8" height="0.8"/><rect x="54.7" y="93.9" width="0.8" height="0.8"/><rect x="59.3" y="115.5" width="0.8" height="0.8"/><rect x="52.0" y="109.1" width="0.8" height="0.8"/><rect x="94.6" y="90.8" width="0.8" height="0.8"/><rect x="61.2" y="73.4" width="0.8" height="0.8"/><rect x="52.8" y="116.0" width="0.8" height="0.8"/><rect x="56.4" y="93.0" width="0.8" height="0.8"/><rect x="75.7" y="117.1" width="0.8" height="0.8"/><rect x="76.8" y="70.8" width="0.8" height="0.8"/><rect x="56.9" y="114.5" width="0.8" height="0.8"/><rect x="51.2" y="108.5" width="0.8" height="0.8"/><rect x="54.9" y="83.7" width="0.8" height="0.8"/><rect x="50.1" y="119.8" width="0.8" height="0.8"/><rect x="94.4" y="85.6" width="0.8" height="0.8"/><rect x="49.7" y="102.8" width="0.8" height="0.8"/><rect x="102.6" y="74.3" width="0.8" height="0.8"/><rect x="95.8" y="90.0" width="0.8" height="0.8"/><rect x="70.3" y="117.4" width="0.8" height="0.8"/><rect x="97.7" y="61.3" width="0.8" height="0.8"/><rect x="56.9" y="117.1" width="0.8" height="0.8"/><rect x="88.0" y="58.5" width="0.8" height="0.8"/><rect x="61.2" y="74.4" width="0.8" height="0.8"/><rect x="64.7" y="73.6" width="0.8" height="0.8"/><rect x="62.0" y="116.7" width="0.8" height="0.8"/><rect x="54.2" y="86.9" width="0.8" height="0.8"/><rect x="55.4" y="113.6" width="0.8" height="0.8"/><rect x="70.9" y="127.2" width="0.8" height="0.8"/><rect x="76.1" y="122.3" width="0.8" height="0.8"/><rect x="100.9" y="62.5" width="0.8" height="0.8"/><rect x="87.5" y="99.7" width="0.8" height="0.8"/><rect x="63.0" y="77.2" width="0.8" height="0.8"/><rect x="101.9" y="67.6" width="0.8" height="0.8"/><rect x="72.9" y="71.7" width="0.8" height="0.8"/><rect x="101.5" y="67.8" width="0.8" height="0.8"/><rect x="101.1" y="63.8" width="0.8" height="0.8"/><rect x="68.7" y="117.4" width="0.8" height="0.8"/><rect x="85.7" y="106.7" width="0.8" height="0.8"/><rect x="59.8" y="83.6" width="0.8" height="0.8"/><rect x="58.6" y="86.0" width="0.8" height="0.8"/><rect x="68.2" y="118.0" width="0.8" height="0.8"/><rect x="82.4" y="111.7" width="0.8" height="0.8"/><rect x="89.4" y="94.7" width="0.8" height="0.8"/><rect x="92.7" y="88.5" width="0.8" height="0.8"/><rect x="61.2" y="117.7" width="0.8" height="0.8"/><rect x="63.9" y="116.9" width="0.8" height="0.8"/><rect x="68.7" y="118.9" width="0.8" height="0.8"/><rect x="77.0" y="69.9" width="0.8" height="0.8"/><rect x="49.9" y="98.8" width="0.8" height="0.8"/><rect x="54.8" y="95.6" width="0.8" height="0.8"/><rect x="60.7" y="78.2" width="0.8" height="0.8"/><rect x="63.6" y="118.6" width="0.8" height="0.8"/><rect x="99.1" y="84.7" width="0.8" height="0.8"/><rect x="49.1" y="106.4" width="0.8" height="0.8"/><rect x="53.0" y="99.2" width="0.8" height="0.8"/><rect x="94.5" y="62.8" width="0.8" height="0.8"/><rect x="85.1" y="107.3" width="0.8" height="0.8"/><rect x="57.8" y="89.0" width="0.8" height="0.8"/><rect x="56.7" y="72.3" width="0.8" height="0.8"/><rect x="98.3" y="62.1" width="0.8" height="0.8"/><rect x="58.2" y="114.9" width="0.8" height="0.8"/><rect x="84.0" y="112.1" width="0.8" height="0.8"/><rect x="91.2" y="91.1" width="0.8" height="0.8"/><rect x="55.6" y="117.3" width="0.8" height="0.8"/><rect x="84.5" y="67.0" width="0.8" height="0.8"/><rect x="51.4" y="101.3" width="0.8" height="0.8"/><rect x="103.1" y="64.1" width="0.8" height="0.8"/><rect x="54.0" y="88.2" width="0.8" height="0.8"/><rect x="57.9" y="121.8" width="0.8" height="0.8"/><rect x="53.1" y="117.9" width="0.8" height="0.8"/><rect x="46.5" y="107.5" width="0.8" height="0.8"/><rect x="47.8" y="94.1" width="0.8" height="0.8"/><rect x="103.3" y="69.1" width="0.8" height="0.8"/><rect x="92.3" y="90.3" width="0.8" height="0.8"/><rect x="62.0" y="74.1" width="0.8" height="0.8"/><rect x="51.5" y="96.2" width="0.8" height="0.8"/><rect x="57.1" y="86.4" width="0.8" height="0.8"/><rect x="55.2" y="94.7" width="0.8" height="0.8"/><rect x="99.5" y="75.6" width="0.8" height="0.8"/><rect x="72.6" y="70.8" width="0.8" height="0.8"/><rect x="58.0" y="89.8" width="0.8" height="0.8"/><rect x="91.9" y="89.6" width="0.8" height="0.8"/><rect x="90.2" y="106.9" width="0.8" height="0.8"/><rect x="56.6" y="79.0" width="0.8" height="0.8"/><rect x="51.5" y="102.5" width="0.8" height="0.8"/><rect x="99.4" y="63.5" width="0.8" height="0.8"/><rect x="65.5" y="73.5" width="0.8" height="0.8"/><rect x="82.2" y="68.7" width="0.8" height="0.8"/><rect x="79.9" y="67.3" width="0.8" height="0.8"/><rect x="93.3" y="88.7" width="0.8" height="0.8"/><rect x="51.2" y="95.6" width="0.8" height="0.8"/><rect x="85.4" y="105.7" width="0.8" height="0.8"/><rect x="52.4" y="111.1" width="0.8" height="0.8"/><rect x="71.1" y="121.8" width="0.8" height="0.8"/><rect x="83.9" y="113.3" width="0.8" height="0.8"/><rect x="56.8" y="78.7" width="0.8" height="0.8"/><rect x="87.7" y="99.2" width="0.8" height="0.8"/><rect x="52.8" y="94.3" width="0.8" height="0.8"/><rect x="60.5" y="81.2" width="0.8" height="0.8"/><rect x="50.0" y="107.1" width="0.8" height="0.8"/><rect x="53.8" y="113.2" width="0.8" height="0.8"/><rect x="89.1" y="62.4" width="0.8" height="0.8"/><rect x="92.1" y="91.6" width="0.8" height="0.8"/><rect x="93.5" y="92.3" width="0.8" height="0.8"/><rect x="58.9" y="74.4" width="0.8" height="0.8"/><rect x="99.0" y="61.1" width="0.8" height="0.8"/><rect x="68.3" y="116.5" width="0.8" height="0.8"/><rect x="85.0" y="121.3" width="0.8" height="0.8"/><rect x="49.6" y="111.8" width="0.8" height="0.8"/><rect x="98.2" y="59.9" width="0.8" height="0.8"/><rect x="66.9" y="116.7" width="0.8" height="0.8"/><rect x="52.0" y="98.0" width="0.8" height="0.8"/><rect x="89.2" y="105.2" width="0.8" height="0.8"/><rect x="44.6" y="100.0" width="0.8" height="0.8"/><rect x="64.1" y="75.1" width="0.8" height="0.8"/><rect x="81.7" y="65.0" width="0.8" height="0.8"/><rect x="62.1" y="123.5" width="0.8" height="0.8"/><rect x="55.7" y="81.2" width="0.8" height="0.8"/><rect x="69.2" y="117.3" width="0.8" height="0.8"/><rect x="101.5" y="80.3" width="0.8" height="0.8"/><rect x="57.4" y="91.2" width="0.8" height="0.8"/><rect x="91.8" y="98.8" width="0.8" height="0.8"/><rect x="50.4" y="103.9" width="0.8" height="0.8"/><rect x="55.3" y="94.2" width="0.8" height="0.8"/><rect x="60.6" y="76.5" width="0.8" height="0.8"/><rect x="105.4" y="62.3" width="0.8" height="0.8"/><rect x="103.2" y="68.1" width="0.8" height="0.8"/><rect x="92.9" y="109.3" width="0.8" height="0.8"/><rect x="52.7" y="112.0" width="0.8" height="0.8"/><rect x="63.5" y="71.1" width="0.8" height="0.8"/><rect x="64.4" y="123.3" width="0.8" height="0.8"/><rect x="101.1" y="70.8" width="0.8" height="0.8"/><rect x="87.4" y="105.7" width="0.8" height="0.8"/><rect x="98.9" y="62.8" width="0.8" height="0.8"/><rect x="61.1" y="117.7" width="0.8" height="0.8"/><rect x="51.6" y="108.6" width="0.8" height="0.8"/><rect x="62.5" y="117.5" width="0.8" height="0.8"/><rect x="107.4" y="65.5" width="0.8" height="0.8"/><rect x="48.9" y="115.4" width="0.8" height="0.8"/></g>
<path d="M64.90 116.50 C62.20 116.17 59.07 115.55 57.00 114.50 C54.93 113.45 53.43 111.95 52.50 110.20 C51.57 108.45 51.15 106.20 51.40 104.00 C51.65 101.80 52.95 99.08 54.00 97.00 C55.05 94.92 56.70 93.50 57.70 91.50 C58.70 89.50 59.32 87.07 60.00 85.00 C60.68 82.93 60.80 81.05 61.80 79.10 C62.80 77.15 63.33 74.70 66.00 73.30 C68.67 71.90 74.13 71.75 77.80 70.70 C81.47 69.65 84.88 68.15 88.00 67.00 C91.12 65.85 94.20 64.22 96.50 63.80 C98.80 63.38 101.08 63.13 101.80 64.50 C102.52 65.87 101.68 69.18 100.80 72.00 C99.92 74.82 98.13 78.32 96.50 81.40 C94.87 84.48 92.75 87.15 91.00 90.50 C89.25 93.85 87.58 97.83 86.00 101.50 C84.42 105.17 83.63 110.00 81.50 112.50 C79.37 115.00 75.97 115.83 73.20 116.50 C70.43 117.17 67.60 116.83 64.90 116.50Z" fill="none" stroke="#000" stroke-width="0.65"/>
<path d="M64.90 116.38 C62.27 116.06 59.21 115.43 57.20 114.38 C55.18 113.34 53.72 111.85 52.83 110.12 C51.93 108.39 51.54 106.15 51.80 104.00 C52.06 101.85 53.36 99.22 54.39 97.19 C55.42 95.17 57.01 93.77 58.00 91.83 C58.99 89.88 59.62 87.53 60.33 85.52 C61.03 83.51 61.23 81.63 62.22 79.74 C63.21 77.85 63.79 75.46 66.26 74.17 C68.73 72.88 73.68 72.82 77.05 71.97 C80.41 71.13 83.58 69.96 86.44 69.08 C89.30 68.20 92.12 66.91 94.22 66.69 C96.33 66.46 98.42 66.41 99.10 67.75 C99.77 69.09 99.06 72.12 98.29 74.73 C97.52 77.34 95.95 80.57 94.48 83.43 C93.02 86.28 91.09 88.77 89.50 91.86 C87.92 94.96 86.40 98.62 84.96 102.02 C83.52 105.42 82.85 109.86 80.85 112.24 C78.85 114.62 75.64 115.61 72.98 116.31 C70.32 117.00 67.53 116.70 64.90 116.38Z" fill="none" stroke="#000" stroke-width="0.65"/>
<path d="M64.90 116.26 C62.34 115.95 59.36 115.29 57.41 114.26 C55.45 113.22 54.04 111.75 53.17 110.04 C52.31 108.33 51.96 106.11 52.24 104.00 C52.51 101.89 53.80 99.38 54.81 97.41 C55.82 95.43 57.34 94.06 58.32 92.17 C59.30 90.29 59.95 88.04 60.67 86.08 C61.40 84.12 61.69 82.25 62.66 80.42 C63.64 78.59 64.28 76.29 66.54 75.11 C68.80 73.93 73.20 73.98 76.23 73.35 C79.27 72.71 82.17 71.91 84.76 71.32 C87.35 70.73 89.87 69.81 91.78 69.79 C93.68 69.78 95.55 69.94 96.18 71.25 C96.82 72.56 96.23 75.28 95.59 77.67 C94.94 80.06 93.60 83.00 92.31 85.61 C91.03 88.22 89.31 90.51 87.89 93.33 C86.48 96.16 85.13 99.48 83.84 102.58 C82.55 105.68 82.00 109.71 80.15 111.96 C78.30 114.21 75.28 115.38 72.74 116.09 C70.20 116.81 67.46 116.56 64.90 116.26Z" fill="none" stroke="#000" stroke-width="0.65"/>
<path d="M64.90 116.13 C62.42 115.84 59.51 115.16 57.62 114.13 C55.72 113.10 54.35 111.64 53.52 109.95 C52.70 108.27 52.39 106.06 52.67 104.00 C52.96 101.94 54.23 99.53 55.23 97.61 C56.23 95.70 57.68 94.35 58.64 92.53 C59.61 90.70 60.28 88.54 61.02 86.64 C61.77 84.74 62.15 82.87 63.11 81.11 C64.08 79.34 64.77 77.11 66.82 76.05 C68.87 74.98 72.71 75.13 75.42 74.72 C78.13 74.30 80.76 73.86 83.08 73.56 C85.40 73.26 87.63 72.70 89.33 72.90 C91.02 73.10 92.68 73.47 93.27 74.75 C93.87 76.03 93.41 78.44 92.89 80.61 C92.37 82.78 91.25 85.43 90.14 87.80 C89.04 90.16 87.52 92.25 86.28 94.81 C85.05 97.36 83.86 100.33 82.72 103.14 C81.58 105.95 81.15 109.56 79.45 111.68 C77.75 113.80 74.93 115.14 72.50 115.89 C70.08 116.63 67.38 116.42 64.90 116.13Z" fill="none" stroke="#000" stroke-width="0.65"/>
<path d="M64.90 116.00 C62.49 115.73 59.66 115.03 57.83 114.00 C55.99 112.98 54.66 111.54 53.88 109.87 C53.09 108.20 52.81 106.01 53.10 104.00 C53.40 101.99 54.67 99.68 55.65 97.83 C56.63 95.97 58.01 94.65 58.97 92.88 C59.92 91.10 60.61 89.05 61.38 87.20 C62.14 85.35 62.61 83.50 63.56 81.80 C64.51 80.09 65.26 77.94 67.10 76.98 C68.94 76.03 72.23 76.29 74.61 76.09 C76.99 75.89 79.36 75.81 81.40 75.80 C83.44 75.79 85.38 75.60 86.88 76.01 C88.37 76.42 89.81 76.99 90.36 78.25 C90.91 79.51 90.58 81.59 90.19 83.55 C89.79 85.50 88.89 87.86 87.97 89.98 C87.06 92.10 85.74 93.99 84.67 96.28 C83.61 98.56 82.59 101.18 81.60 103.70 C80.61 106.22 80.31 109.40 78.75 111.40 C77.19 113.40 74.57 114.91 72.27 115.67 C69.96 116.44 67.31 116.28 64.90 116.00Z" fill="none" stroke="#000" stroke-width="0.65"/>
<path d="M64.90 115.88 C62.57 115.61 59.81 114.89 58.03 113.88 C56.26 112.86 54.97 111.43 54.23 109.79 C53.48 108.14 53.23 105.96 53.54 104.00 C53.85 102.04 55.11 99.83 56.07 98.03 C57.03 96.24 58.34 94.94 59.29 93.22 C60.23 91.51 60.94 89.55 61.73 87.76 C62.51 85.97 63.07 84.12 64.01 82.48 C64.95 80.84 65.75 78.76 67.38 77.92 C69.01 77.09 71.74 77.44 73.80 77.46 C75.85 77.48 77.95 77.76 79.72 78.04 C81.49 78.32 83.14 78.50 84.42 79.12 C85.71 79.74 86.94 80.52 87.45 81.75 C87.96 82.98 87.76 84.75 87.48 86.49 C87.21 88.23 86.54 90.29 85.81 92.16 C85.07 94.04 83.95 95.73 83.06 97.75 C82.18 99.76 81.32 102.03 80.48 104.26 C79.64 106.49 79.46 109.25 78.05 111.12 C76.64 112.99 74.22 114.67 72.03 115.47 C69.84 116.26 67.23 116.14 64.90 115.88Z" fill="none" stroke="#000" stroke-width="0.65"/>
<path d="M64.90 115.74 C62.65 115.49 59.98 114.75 58.26 113.74 C56.54 112.74 55.31 111.32 54.60 109.70 C53.89 108.07 53.68 105.91 54.00 104.00 C54.32 102.09 55.58 99.99 56.52 98.26 C57.46 96.53 58.70 95.25 59.63 93.60 C60.56 91.95 61.29 90.09 62.10 88.36 C62.91 86.63 63.56 84.79 64.49 83.22 C65.42 81.64 66.27 79.64 67.68 78.93 C69.09 78.21 71.22 78.68 72.93 78.93 C74.63 79.18 76.44 79.85 77.92 80.44 C79.40 81.03 80.73 81.60 81.80 82.45 C82.87 83.29 83.86 84.30 84.33 85.50 C84.79 86.70 84.73 88.14 84.59 89.64 C84.45 91.14 84.02 92.89 83.48 94.50 C82.94 96.12 82.04 97.59 81.34 99.32 C80.64 101.05 79.95 102.94 79.28 104.86 C78.61 106.78 78.55 109.09 77.30 110.82 C76.05 112.55 73.84 114.42 71.77 115.24 C69.71 116.06 67.15 115.99 64.90 115.74Z" fill="none" stroke="#000" stroke-width="0.65"/>
<path d="M64.90 115.60 C62.73 115.37 60.15 114.60 58.50 113.60 C56.85 112.60 55.67 111.20 55.00 109.60 C54.33 108.00 54.17 105.85 54.50 104.00 C54.83 102.15 56.08 100.17 57.00 98.50 C57.92 96.83 59.08 95.58 60.00 94.00 C60.92 92.42 61.67 90.67 62.50 89.00 C63.33 87.33 64.08 85.50 65.00 84.00 C65.92 82.50 66.83 80.58 68.00 80.00 C69.17 79.42 70.67 80.00 72.00 80.50 C73.33 81.00 74.83 82.08 76.00 83.00 C77.17 83.92 78.17 84.92 79.00 86.00 C79.83 87.08 80.58 88.33 81.00 89.50 C81.42 90.67 81.50 91.75 81.50 93.00 C81.50 94.25 81.33 95.67 81.00 97.00 C80.67 98.33 80.00 99.58 79.50 101.00 C79.00 102.42 78.50 103.92 78.00 105.50 C77.50 107.08 77.58 108.92 76.50 110.50 C75.42 112.08 73.43 114.15 71.50 115.00 C69.57 115.85 67.07 115.83 64.90 115.60Z" fill="none" stroke="#000" stroke-width="0.65"/>
<path d="M65.01 114.76 C63.08 114.53 60.67 113.92 59.17 113.03 C57.68 112.14 56.64 110.84 56.03 109.43 C55.43 108.02 55.25 106.25 55.54 104.59 C55.84 102.92 56.99 100.96 57.82 99.44 C58.64 97.91 59.64 96.86 60.49 95.44 C61.33 94.02 62.13 92.39 62.87 90.90 C63.60 89.41 64.14 87.84 64.92 86.50 C65.71 85.17 66.48 83.42 67.57 82.89 C68.65 82.36 70.21 82.87 71.42 83.31 C72.62 83.76 73.78 84.74 74.81 85.55 C75.84 86.36 76.85 87.20 77.59 88.15 C78.33 89.11 78.90 90.24 79.27 91.30 C79.63 92.36 79.76 93.40 79.77 94.53 C79.78 95.66 79.63 96.88 79.32 98.08 C79.01 99.29 78.33 100.48 77.91 101.77 C77.48 103.07 77.21 104.41 76.78 105.84 C76.36 107.27 76.36 108.93 75.35 110.36 C74.34 111.79 72.46 113.69 70.74 114.42 C69.02 115.16 66.93 114.99 65.01 114.76Z" fill="none" stroke="#000" stroke-width="0.65"/>
<path d="M64.87 114.21 C63.13 114.01 61.12 113.41 59.79 112.59 C58.47 111.78 57.46 110.60 56.90 109.32 C56.35 108.04 56.21 106.39 56.48 104.92 C56.75 103.46 57.80 101.89 58.52 100.55 C59.25 99.20 60.06 98.16 60.81 96.88 C61.57 95.59 62.37 94.17 63.07 92.84 C63.76 91.52 64.27 90.08 64.98 88.92 C65.68 87.75 66.38 86.32 67.30 85.87 C68.22 85.41 69.44 85.85 70.50 86.20 C71.56 86.56 72.70 87.27 73.66 87.99 C74.62 88.71 75.61 89.62 76.27 90.50 C76.93 91.38 77.32 92.34 77.63 93.29 C77.94 94.23 78.14 95.20 78.14 96.19 C78.14 97.18 77.88 98.17 77.64 99.24 C77.40 100.30 77.10 101.45 76.70 102.59 C76.30 103.73 75.69 104.81 75.26 106.07 C74.83 107.33 74.96 108.88 74.12 110.17 C73.27 111.46 71.74 113.15 70.19 113.82 C68.65 114.50 66.60 114.42 64.87 114.21Z" fill="none" stroke="#000" stroke-width="0.65"/>
<path d="M64.97 113.51 C63.48 113.35 61.62 112.88 60.46 112.17 C59.30 111.47 58.48 110.41 58.02 109.29 C57.55 108.17 57.43 106.75 57.68 105.44 C57.92 104.13 58.82 102.62 59.46 101.42 C60.11 100.22 60.92 99.32 61.55 98.23 C62.19 97.15 62.71 96.02 63.27 94.91 C63.83 93.79 64.31 92.58 64.94 91.52 C65.57 90.46 66.23 88.97 67.06 88.56 C67.89 88.14 68.99 88.69 69.93 89.04 C70.86 89.39 71.87 90.02 72.67 90.64 C73.47 91.26 74.14 92.01 74.73 92.77 C75.31 93.52 75.92 94.35 76.21 95.17 C76.50 95.99 76.47 96.82 76.46 97.70 C76.44 98.57 76.32 99.48 76.11 100.43 C75.89 101.37 75.52 102.39 75.18 103.38 C74.83 104.38 74.42 105.33 74.04 106.41 C73.66 107.49 73.67 108.76 72.90 109.87 C72.12 110.99 70.70 112.50 69.38 113.10 C68.06 113.71 66.45 113.66 64.97 113.51Z" fill="none" stroke="#000" stroke-width="0.65"/>
<path d="M64.92 115.88 C61.94 115.43 58.13 114.49 56.13 112.95 C54.12 111.40 52.90 108.77 52.90 106.60 C52.90 104.43 54.29 101.49 56.14 99.91 C57.98 98.33 61.19 97.38 63.98 97.12 C66.76 96.87 70.43 97.22 72.85 98.36 C75.28 99.51 77.47 101.96 78.52 104.00 C79.56 106.04 79.88 108.64 79.13 110.58 C78.37 112.52 76.38 114.77 74.01 115.65 C71.64 116.53 67.91 116.33 64.92 115.88Z" fill="none" stroke="#000" stroke-width="0.90"/>
<path d="M64.90 115.60 C62.09 115.21 58.56 114.24 56.67 112.77 C54.79 111.30 53.61 108.77 53.60 106.79 C53.58 104.80 54.82 102.32 56.57 100.85 C58.32 99.37 61.49 98.19 64.11 97.93 C66.73 97.67 70.07 98.19 72.31 99.28 C74.54 100.37 76.56 102.57 77.51 104.45 C78.47 106.34 78.70 108.81 78.03 110.59 C77.36 112.37 75.68 114.29 73.50 115.13 C71.31 115.96 67.70 115.99 64.90 115.60Z" fill="none" stroke="#000" stroke-width="0.90"/>
<path d="M64.87 115.23 C62.29 114.86 59.11 113.91 57.38 112.56 C55.65 111.21 54.53 108.98 54.49 107.11 C54.45 105.25 55.51 102.73 57.13 101.37 C58.76 100.01 61.80 99.17 64.26 98.95 C66.71 98.72 69.78 99.02 71.86 100.02 C73.93 101.02 75.82 103.16 76.70 104.92 C77.58 106.69 77.75 108.97 77.11 110.61 C76.46 112.24 74.87 113.96 72.83 114.73 C70.79 115.50 67.44 115.59 64.87 115.23Z" fill="none" stroke="#000" stroke-width="0.90"/>
<path d="M64.78 114.72 C62.43 114.40 59.44 113.67 57.85 112.41 C56.26 111.16 55.22 108.89 55.23 107.18 C55.23 105.47 56.40 103.38 57.89 102.17 C59.37 100.96 61.89 100.15 64.12 99.92 C66.36 99.69 69.41 99.91 71.32 100.82 C73.23 101.73 74.82 103.78 75.60 105.39 C76.37 107.00 76.57 109.00 75.96 110.49 C75.35 111.98 73.78 113.62 71.92 114.33 C70.06 115.03 67.12 115.04 64.78 114.72Z" fill="none" stroke="#000" stroke-width="0.90"/>
<path d="M64.97 114.40 C62.84 114.10 59.98 113.27 58.51 112.12 C57.05 110.98 56.18 109.09 56.16 107.55 C56.14 106.01 57.05 104.02 58.39 102.90 C59.74 101.78 62.18 101.04 64.23 100.85 C66.29 100.65 69.01 100.95 70.73 101.75 C72.45 102.55 73.82 104.21 74.55 105.63 C75.28 107.06 75.64 108.92 75.10 110.30 C74.56 111.68 72.99 113.23 71.30 113.92 C69.62 114.60 67.11 114.70 64.97 114.40Z" fill="none" stroke="#000" stroke-width="0.90"/>
<path d="M64.87 114.07 C62.93 113.82 60.45 113.18 59.11 112.11 C57.78 111.04 56.86 109.08 56.87 107.65 C56.88 106.22 57.92 104.53 59.16 103.52 C60.41 102.50 62.53 101.74 64.34 101.58 C66.16 101.41 68.49 101.74 70.03 102.52 C71.57 103.31 72.91 104.99 73.58 106.29 C74.26 107.60 74.52 109.13 74.05 110.35 C73.58 111.57 72.30 112.99 70.76 113.61 C69.23 114.23 66.81 114.32 64.87 114.07Z" fill="none" stroke="#000" stroke-width="0.90"/>
<path d="M64.72 113.68 C62.99 113.44 60.87 112.89 59.72 111.96 C58.57 111.03 57.84 109.39 57.82 108.09 C57.81 106.79 58.51 105.05 59.62 104.15 C60.73 103.24 62.82 102.75 64.47 102.65 C66.11 102.55 68.10 102.88 69.50 103.53 C70.90 104.18 72.25 105.38 72.84 106.55 C73.44 107.71 73.52 109.37 73.07 110.51 C72.62 111.66 71.53 112.88 70.13 113.41 C68.74 113.94 66.46 113.92 64.72 113.68Z" fill="none" stroke="#000" stroke-width="0.90"/>
<path d="M64.77 113.12 C63.25 112.90 61.40 112.33 60.38 111.54 C59.35 110.76 58.63 109.50 58.62 108.43 C58.61 107.35 59.36 105.93 60.31 105.09 C61.26 104.24 62.88 103.53 64.32 103.37 C65.75 103.21 67.67 103.54 68.94 104.14 C70.21 104.74 71.41 105.96 71.93 106.98 C72.45 107.99 72.46 109.26 72.06 110.24 C71.66 111.22 70.72 112.39 69.50 112.87 C68.29 113.35 66.29 113.35 64.77 113.12Z" fill="none" stroke="#000" stroke-width="0.90"/>
<path d="M64.81 112.62 C63.46 112.47 61.70 112.22 60.81 111.53 C59.93 110.84 59.47 109.48 59.48 108.50 C59.48 107.52 60.02 106.35 60.84 105.65 C61.65 104.94 63.10 104.36 64.37 104.25 C65.64 104.15 67.40 104.46 68.46 105.00 C69.52 105.55 70.31 106.66 70.72 107.53 C71.14 108.41 71.22 109.45 70.93 110.26 C70.63 111.08 69.97 112.03 68.95 112.42 C67.93 112.81 66.17 112.77 64.81 112.62Z" fill="none" stroke="#000" stroke-width="0.90"/>
<path d="M64.82 112.45 C63.71 112.27 62.39 111.73 61.64 111.13 C60.88 110.54 60.34 109.66 60.32 108.90 C60.29 108.14 60.82 107.14 61.51 106.56 C62.19 105.99 63.36 105.58 64.42 105.45 C65.47 105.32 66.93 105.40 67.84 105.79 C68.74 106.18 69.47 107.05 69.85 107.80 C70.23 108.54 70.37 109.51 70.12 110.24 C69.86 110.97 69.21 111.82 68.32 112.19 C67.44 112.56 65.93 112.62 64.82 112.45Z" fill="none" stroke="#000" stroke-width="0.90"/>
<path d="M64.79 111.86 C63.91 111.71 62.77 111.43 62.19 110.95 C61.61 110.47 61.32 109.61 61.31 108.98 C61.31 108.34 61.63 107.60 62.16 107.15 C62.69 106.71 63.65 106.39 64.49 106.32 C65.33 106.25 66.49 106.41 67.23 106.74 C67.97 107.06 68.63 107.71 68.93 108.28 C69.23 108.85 69.27 109.56 69.03 110.17 C68.78 110.77 68.17 111.61 67.46 111.90 C66.76 112.18 65.67 112.02 64.79 111.86Z" fill="none" stroke="#000" stroke-width="0.90"/>
<path d="M64.77 111.58 C64.04 111.47 63.12 111.23 62.66 110.86 C62.20 110.49 61.99 109.87 62.00 109.35 C62.01 108.83 62.29 108.10 62.72 107.72 C63.14 107.35 63.92 107.11 64.56 107.08 C65.20 107.06 66.02 107.30 66.57 107.57 C67.13 107.85 67.62 108.28 67.89 108.75 C68.15 109.21 68.33 109.89 68.19 110.35 C68.05 110.82 67.60 111.32 67.03 111.53 C66.46 111.73 65.50 111.69 64.77 111.58Z" fill="none" stroke="#000" stroke-width="0.90"/>
<path d="M64.71 111.06 C64.19 110.99 63.55 110.95 63.25 110.70 C62.95 110.45 62.91 109.91 62.93 109.56 C62.95 109.22 63.07 108.87 63.37 108.62 C63.67 108.36 64.26 108.07 64.73 108.01 C65.21 107.96 65.83 108.10 66.22 108.28 C66.60 108.47 66.91 108.76 67.03 109.11 C67.15 109.46 67.07 110.04 66.96 110.37 C66.84 110.71 66.72 111.00 66.34 111.11 C65.97 111.23 65.22 111.13 64.71 111.06Z" fill="none" stroke="#000" stroke-width="0.90"/>
<ellipse cx="64.8" cy="109.6" rx="1.5" ry="0.9" fill="#fff"/>
<path d="M98.16 64.70 C98.76 65.07 99.15 65.94 99.20 67.00 C99.25 68.06 98.97 69.60 98.47 71.08 C97.96 72.55 97.09 74.34 96.16 75.83 C95.23 77.31 94.00 78.88 92.90 79.98 C91.80 81.08 90.54 82.00 89.56 82.42 C88.58 82.85 87.63 82.88 87.04 82.50 C86.44 82.13 86.05 81.26 86.00 80.20 C85.95 79.14 86.23 77.60 86.73 76.12 C87.24 74.65 88.11 72.86 89.04 71.37 C89.97 69.89 91.20 68.32 92.30 67.22 C93.40 66.12 94.66 65.20 95.64 64.78 C96.62 64.35 97.57 64.32 98.16 64.70Z" fill="none" stroke="#000" stroke-width="0.65"/>
<path d="M97.41 65.91 C97.87 66.20 98.17 66.90 98.20 67.76 C98.22 68.62 97.98 69.87 97.55 71.07 C97.13 72.27 96.41 73.73 95.65 74.95 C94.89 76.16 93.89 77.45 92.99 78.36 C92.10 79.27 91.09 80.04 90.30 80.39 C89.52 80.75 88.76 80.78 88.29 80.49 C87.83 80.20 87.53 79.50 87.50 78.64 C87.48 77.78 87.72 76.53 88.15 75.33 C88.57 74.13 89.29 72.67 90.05 71.45 C90.81 70.24 91.81 68.95 92.71 68.04 C93.60 67.13 94.61 66.36 95.40 66.01 C96.18 65.65 96.94 65.62 97.41 65.91Z" fill="none" stroke="#000" stroke-width="0.65"/>
<path d="M96.65 67.12 C97.00 67.34 97.22 67.88 97.23 68.54 C97.24 69.21 97.05 70.18 96.71 71.11 C96.38 72.04 95.81 73.18 95.22 74.12 C94.63 75.07 93.85 76.08 93.16 76.79 C92.47 77.50 91.69 78.10 91.09 78.38 C90.48 78.67 89.90 78.70 89.55 78.48 C89.20 78.26 88.98 77.72 88.97 77.06 C88.96 76.39 89.15 75.42 89.49 74.49 C89.82 73.56 90.39 72.42 90.98 71.48 C91.57 70.53 92.35 69.52 93.04 68.81 C93.73 68.10 94.51 67.50 95.11 67.22 C95.72 66.93 96.30 66.90 96.65 67.12Z" fill="none" stroke="#000" stroke-width="0.65"/>
<path d="M95.89 68.33 C96.13 68.48 96.28 68.86 96.27 69.33 C96.27 69.79 96.12 70.48 95.87 71.14 C95.62 71.81 95.22 72.62 94.79 73.30 C94.37 73.98 93.81 74.70 93.33 75.22 C92.84 75.73 92.29 76.17 91.87 76.38 C91.45 76.58 91.05 76.62 90.81 76.47 C90.57 76.32 90.42 75.94 90.43 75.47 C90.43 75.01 90.58 74.32 90.83 73.66 C91.08 72.99 91.48 72.18 91.91 71.50 C92.33 70.82 92.89 70.10 93.37 69.58 C93.86 69.07 94.41 68.63 94.83 68.42 C95.25 68.22 95.65 68.18 95.89 68.33Z" fill="none" stroke="#000" stroke-width="0.65"/>
<path d="M95.08 69.63 C95.21 69.70 95.28 69.92 95.27 70.18 C95.25 70.45 95.15 70.84 95.00 71.23 C94.85 71.61 94.61 72.08 94.36 72.48 C94.12 72.87 93.80 73.30 93.52 73.60 C93.24 73.90 92.93 74.17 92.70 74.29 C92.46 74.42 92.24 74.45 92.12 74.37 C91.99 74.30 91.92 74.08 91.93 73.82 C91.95 73.55 92.05 73.16 92.20 72.77 C92.35 72.39 92.59 71.92 92.84 71.52 C93.08 71.13 93.40 70.70 93.68 70.40 C93.96 70.10 94.27 69.83 94.50 69.71 C94.74 69.58 94.96 69.55 95.08 69.63Z" fill="none" stroke="#000" stroke-width="0.65"/>
<ellipse cx="96" cy="70.6" rx="28" ry="13.3" transform="rotate(-53.5 96 70.6)" fill="none" stroke="#333" stroke-width="0.8"/>
<g fill="#c4c4c4"><rect x="44.9" y="12.8" width="0.9" height="0.9"/><rect x="59.4" y="31.8" width="0.9" height="0.9"/><rect x="76.4" y="53.7" width="0.9" height="0.9"/><rect x="44.7" y="45.3" width="0.9" height="0.9"/><rect x="116.6" y="29.6" width="0.9" height="0.9"/><rect x="140.7" y="76.4" width="0.9" height="0.9"/><rect x="126.0" y="38.6" width="0.9" height="0.9"/><rect x="92.2" y="90.1" width="0.9" height="0.9"/><rect x="81.9" y="8.1" width="0.9" height="0.9"/><rect x="140.1" y="101.2" width="0.9" height="0.9"/><rect x="74.4" y="13.2" width="0.9" height="0.9"/><rect x="142.5" y="80.9" width="0.9" height="0.9"/><rect x="45.7" y="37.3" width="0.9" height="0.9"/><rect x="53.3" y="103.0" width="0.9" height="0.9"/><rect x="65.2" y="117.7" width="0.9" height="0.9"/><rect x="129.9" y="18.3" width="0.9" height="0.9"/><rect x="123.4" y="55.2" width="0.9" height="0.9"/><rect x="129.7" y="107.4" width="0.9" height="0.9"/><rect x="73.7" y="18.8" width="0.9" height="0.9"/><rect x="153.6" y="58.9" width="0.9" height="0.9"/><rect x="151.6" y="91.0" width="0.9" height="0.9"/><rect x="128.6" y="107.6" width="0.9" height="0.9"/><rect x="115.4" y="62.3" width="0.9" height="0.9"/><rect x="46.5" y="91.8" width="0.9" height="0.9"/><rect x="91.4" y="69.4" width="0.9" height="0.9"/></g>
<path d="M19.85 88.50V146.40H78.00" fill="none" stroke="#000" stroke-width="1.15"/><path d="M19.85 82.50l-4.65 9.4h9.3z" fill="#000"/><path d="M84.00 146.40l-9.4 -4.65v9.3z" fill="#000"/>
<rect x="33.5" y="172.4" width="132.7" height="132.1" fill="none" stroke="#707070" stroke-width="1"/><path d="M33.5 172.4V304.5H166.2" fill="none" stroke="#555" stroke-width="1"/>
<g stroke="#3a3a3a" stroke-width="0.8" fill="none"><path d="M33.5 178.5H31.6"/><path d="M33.5 183.5H31.6"/><path d="M33.5 189.5H31.6"/><path d="M33.5 194.5H30.1"/><path d="M33.5 200.5H31.6"/><path d="M33.5 206.5H31.6"/><path d="M33.5 211.5H31.6"/><path d="M33.5 217.5H31.6"/><path d="M33.5 222.5H30.1"/><path d="M33.5 228.5H31.6"/><path d="M33.5 233.5H31.6"/><path d="M33.5 239.5H31.6"/><path d="M33.5 244.5H31.6"/><path d="M33.5 250.5H30.1"/><path d="M33.5 255.5H31.6"/><path d="M33.5 261.5H31.6"/><path d="M33.5 266.5H31.6"/><path d="M33.5 272.5H31.6"/><path d="M33.5 277.5H30.1"/><path d="M33.5 283.5H31.6"/><path d="M33.5 288.5H31.6"/><path d="M33.5 294.5H31.6"/><path d="M33.5 299.5H31.6"/></g>
<g stroke="#3a3a3a" stroke-width="0.75" fill="none"><path d="M63.5 304.5V307.7"/><path d="M93.5 304.5V307.7"/><path d="M123.5 304.5V307.7"/><path d="M153.5 304.5V307.7"/><path d="M166.5 304.5V307.7"/><path d="M72.5 304.5V306.5"/><path d="M77.5 304.5V306.5"/><path d="M81.5 304.5V306.5"/><path d="M84.5 304.5V306.5"/><path d="M86.5 304.5V306.5"/><path d="M88.5 304.5V306.5"/><path d="M90.5 304.5V306.5"/><path d="M92.5 304.5V306.5"/><path d="M102.5 304.5V306.5"/><path d="M107.5 304.5V306.5"/><path d="M111.5 304.5V306.5"/><path d="M114.5 304.5V306.5"/><path d="M116.5 304.5V306.5"/><path d="M118.5 304.5V306.5"/><path d="M120.5 304.5V306.5"/><path d="M122.5 304.5V306.5"/><path d="M132.5 304.5V306.5"/><path d="M137.5 304.5V306.5"/><path d="M141.5 304.5V306.5"/><path d="M144.5 304.5V306.5"/><path d="M146.5 304.5V306.5"/><path d="M148.5 304.5V306.5"/><path d="M150.5 304.5V306.5"/><path d="M151.5 304.5V306.5"/><path d="M157.5 304.5V306.5"/><path d="M159.5 304.5V306.5"/><path d="M160.5 304.5V306.5"/><path d="M162.5 304.5V306.5"/><path d="M163.5 304.5V306.5"/><path d="M164.5 304.5V306.5"/><path d="M164.5 304.5V306.5"/><path d="M165.5 304.5V306.5"/></g>
<rect x="53.4" y="304.5" width="5.5" height="2.4" fill="#333"/>
<g stroke="#3a3a3a" stroke-width="0.8"><path d="M36.5 304.5v2"/><path d="M39.5 304.5v2"/><path d="M42.5 304.5v2"/><path d="M45.5 304.5v2"/><path d="M48.5 304.5v2"/><path d="M51.5 304.5v2"/><path d="M61.5 304.5v2"/></g>
<path d="M34.5 304.3 L34.5 259.5 L35.6 282.8 L38.1 268.5 L41.7 256.3 L44.2 250.0 L46.2 240.0 L47.7 225.0 L49.1 223.0 L50.8 214.7 L52.8 212.6 L54.5 213.6 L56.0 205.3 L58.0 219.9 L60.1 210.5 L62.2 213.6 L64.3 207.4 L66.8 194.9 L68.8 216.7 L70.5 197.0 L73.0 184.1 L74.7 194.9 L76.1 196.0 L77.8 210.5 L80.5 178.7 L82.3 192.8 L84.0 201.2 L85.7 194.9 L87.1 211.5 L89.2 191.8 L90.9 211.5 L92.3 218.8 L94.0 216.7 L96.5 228.2 L98.5 240.0 L99.5 250.0 L101.5 255.0 L104.0 258.8 L107.8 266.4 L111.6 275.3 L114.0 284.0 L119.0 287.9 L123.0 296.7 L126.7 298.0 L131.8 303.0 L136.8 304.3 L166.3 304.3Z" fill="#9b9b9b"/>
<path d="M34.5 304.3 L34.5 259.5 L35.6 282.8 L38.1 268.5 L41.7 256.3 L44.2 250.0 L46.2 240.0 L47.7 225.0 L49.1 223.0 L50.8 214.7 L52.8 212.6 L54.5 213.6 L56.0 205.3 L58.0 219.9 L60.1 210.5 L62.2 213.6 L64.3 207.4 L66.8 194.9 L68.8 216.7 L70.5 197.0 L73.0 184.1 L74.7 194.9 L76.1 196.0 L77.8 210.5 L80.5 178.7 L82.3 192.8 L84.0 201.2 L85.7 194.9 L87.1 211.5 L89.2 191.8 L90.9 211.5 L92.3 218.8 L94.0 216.7 L96.5 228.2 L98.5 240.0 L99.5 250.0 L101.5 255.0 L104.0 258.8 L107.8 266.4 L111.6 275.3 L114.0 284.0 L119.0 287.9 L123.0 296.7 L126.7 298.0 L131.8 303.0 L136.8 304.3 L166.3 304.3" fill="none" stroke="#000" stroke-width="1.5" stroke-linejoin="round"/>
<path d="M19.85 257.80V315.85H78.20" fill="none" stroke="#000" stroke-width="1.15"/><path d="M19.85 251.80l-4.65 9.4h9.3z" fill="#000"/><path d="M84.20 315.85l-9.4 -4.65v9.3z" fill="#000"/>
<rect x="207.5" y="2.3" width="132.9" height="131.7" fill="none" stroke="#707070" stroke-width="1"/><path d="M207.5 2.3V134.0H340.4" fill="none" stroke="#555" stroke-width="1"/>
<g stroke="#3a3a3a" stroke-width="0.8" fill="none"><path d="M207.5 14.5H204.1"/><path d="M207.5 43.5H204.1"/><path d="M207.5 77.5H204.1"/><path d="M207.5 105.5H204.1"/><path d="M207.5 34.5H205.6"/><path d="M207.5 29.5H205.6"/><path d="M207.5 25.5H205.6"/><path d="M207.5 22.5H205.6"/><path d="M207.5 20.5H205.6"/><path d="M207.5 18.5H205.6"/><path d="M207.5 16.5H205.6"/><path d="M207.5 15.5H205.6"/><path d="M207.5 67.5H205.6"/><path d="M207.5 61.5H205.6"/><path d="M207.5 57.5H205.6"/><path d="M207.5 53.5H205.6"/><path d="M207.5 51.5H205.6"/><path d="M207.5 48.5H205.6"/><path d="M207.5 46.5H205.6"/><path d="M207.5 45.5H205.6"/><path d="M207.5 96.5H205.6"/><path d="M207.5 92.5H205.6"/><path d="M207.5 88.5H205.6"/><path d="M207.5 85.5H205.6"/><path d="M207.5 83.5H205.6"/><path d="M207.5 81.5H205.6"/><path d="M207.5 80.5H205.6"/><path d="M207.5 78.5H205.6"/></g>
<path d="M204.2 108.6h3.4v4.8h-3.4l1.4-1.2v-2.4z" fill="#333"/><path d="M205.5 105.3h2.3" stroke="#555" stroke-width="0.7"/>
<g stroke="#3a3a3a" stroke-width="0.8" fill="none"><path d="M207.5 113.5H204.1"/><path d="M207.5 131.5H204.1"/><path d="M207.5 125.5H205.6"/><path d="M207.5 122.5H205.6"/><path d="M207.5 120.5H205.6"/><path d="M207.5 118.5H205.6"/><path d="M207.5 117.5H205.6"/><path d="M207.5 116.5H205.6"/><path d="M207.5 115.5H205.6"/><path d="M207.5 114.5H205.6"/></g>
<g stroke="#3a3a3a" stroke-width="0.75" fill="none"><path d="M237.5 134.0V137.2"/><path d="M267.5 134.0V137.2"/><path d="M297.5 134.0V137.2"/><path d="M327.5 134.0V137.2"/><path d="M340.5 134.0V137.2"/><path d="M246.5 134.0V136.0"/><path d="M251.5 134.0V136.0"/><path d="M255.5 134.0V136.0"/><path d="M258.5 134.0V136.0"/><path d="M260.5 134.0V136.0"/><path d="M262.5 134.0V136.0"/><path d="M264.5 134.0V136.0"/><path d="M266.5 134.0V136.0"/><path d="M276.5 134.0V136.0"/><path d="M281.5 134.0V136.0"/><path d="M285.5 134.0V136.0"/><path d="M288.5 134.0V136.0"/><path d="M290.5 134.0V136.0"/><path d="M292.5 134.0V136.0"/><path d="M294.5 134.0V136.0"/><path d="M296.5 134.0V136.0"/><path d="M306.5 134.0V136.0"/><path d="M311.5 134.0V136.0"/><path d="M315.5 134.0V136.0"/><path d="M318.5 134.0V136.0"/><path d="M320.5 134.0V136.0"/><path d="M322.5 134.0V136.0"/><path d="M324.5 134.0V136.0"/><path d="M325.5 134.0V136.0"/><path d="M331.5 134.0V136.0"/><path d="M333.5 134.0V136.0"/><path d="M334.5 134.0V136.0"/><path d="M336.5 134.0V136.0"/><path d="M337.5 134.0V136.0"/><path d="M338.5 134.0V136.0"/><path d="M338.5 134.0V136.0"/><path d="M339.5 134.0V136.0"/></g>
<rect x="228.1" y="133.9" width="5.4" height="2.4" fill="#333"/>
<g stroke="#3a3a3a" stroke-width="0.8"><path d="M210.5 134v2"/><path d="M213.5 134v2"/><path d="M216.5 134v2"/><path d="M219.5 134v2"/><path d="M222.5 134v2"/><path d="M225.5 134v2"/><path d="M235.5 134v2"/></g>
<g fill="#777"><rect x="248.0" y="50.7" width="0.8" height="0.8"/><rect x="263.5" y="68.0" width="0.8" height="0.8"/><rect x="263.5" y="63.6" width="0.8" height="0.8"/><rect x="220.7" y="58.9" width="0.8" height="0.8"/><rect x="227.1" y="54.0" width="0.8" height="0.8"/><rect x="250.0" y="50.2" width="0.8" height="0.8"/><rect x="219.6" y="71.6" width="0.8" height="0.8"/><rect x="221.4" y="79.3" width="0.8" height="0.8"/><rect x="263.5" y="75.6" width="0.8" height="0.8"/><rect x="265.8" y="61.5" width="0.8" height="0.8"/><rect x="224.6" y="80.4" width="0.8" height="0.8"/><rect x="249.2" y="50.2" width="0.8" height="0.8"/><rect x="230.9" y="84.0" width="0.8" height="0.8"/><rect x="263.1" y="74.4" width="0.8" height="0.8"/><rect x="220.3" y="59.5" width="0.8" height="0.8"/><rect x="259.0" y="54.5" width="0.8" height="0.8"/><rect x="235.2" y="50.8" width="0.8" height="0.8"/><rect x="246.3" y="86.2" width="0.8" height="0.8"/><rect x="212.3" y="57.0" width="0.8" height="0.8"/><rect x="218.0" y="73.0" width="0.8" height="0.8"/><rect x="264.5" y="67.5" width="0.8" height="0.8"/><rect x="224.5" y="83.3" width="0.8" height="0.8"/><rect x="261.5" y="82.8" width="0.8" height="0.8"/><rect x="263.8" y="80.2" width="0.8" height="0.8"/><rect x="262.6" y="71.5" width="0.8" height="0.8"/><rect x="218.4" y="66.5" width="0.8" height="0.8"/><rect x="246.3" y="50.6" width="0.8" height="0.8"/><rect x="254.0" y="49.9" width="0.8" height="0.8"/><rect x="259.6" y="78.8" width="0.8" height="0.8"/><rect x="256.5" y="52.7" width="0.8" height="0.8"/><rect x="264.2" y="62.2" width="0.8" height="0.8"/><rect x="240.2" y="85.8" width="0.8" height="0.8"/><rect x="219.3" y="59.3" width="0.8" height="0.8"/><rect x="227.5" y="88.0" width="0.8" height="0.8"/><rect x="217.5" y="70.7" width="0.8" height="0.8"/><rect x="261.1" y="78.5" width="0.8" height="0.8"/><rect x="249.6" y="51.0" width="0.8" height="0.8"/><rect x="220.6" y="75.6" width="0.8" height="0.8"/><rect x="224.2" y="55.2" width="0.8" height="0.8"/><rect x="261.3" y="58.4" width="0.8" height="0.8"/></g>
<path d="M219.44 66.84 C219.48 64.66 219.54 61.92 220.61 59.97 C221.69 58.02 223.68 56.50 225.91 55.16 C228.15 53.83 231.04 52.72 234.01 51.97 C236.98 51.22 240.73 50.73 243.74 50.68 C246.75 50.62 249.66 51.07 252.07 51.63 C254.47 52.20 256.44 52.67 258.16 54.07 C259.89 55.46 261.54 57.88 262.42 59.98 C263.30 62.07 263.52 64.33 263.43 66.64 C263.34 68.95 262.79 71.61 261.88 73.83 C260.96 76.06 260.04 78.18 257.93 79.98 C255.81 81.79 252.40 83.73 249.19 84.66 C245.97 85.60 241.90 85.78 238.65 85.59 C235.40 85.40 232.21 84.64 229.68 83.55 C227.16 82.45 225.08 80.77 223.52 79.02 C221.97 77.27 221.05 75.07 220.37 73.04 C219.69 71.01 219.40 69.02 219.44 66.84Z" fill="none" stroke="#000" stroke-width="0.70"/>
<path d="M220.32 66.74 C220.38 64.71 220.63 62.27 221.70 60.44 C222.77 58.62 224.66 57.01 226.72 55.79 C228.79 54.57 231.35 53.82 234.08 53.12 C236.81 52.43 240.29 51.74 243.12 51.63 C245.94 51.52 248.83 51.90 251.04 52.48 C253.26 53.06 254.80 53.76 256.42 55.09 C258.03 56.42 259.88 58.54 260.74 60.48 C261.60 62.42 261.66 64.56 261.60 66.72 C261.53 68.89 261.21 71.45 260.35 73.50 C259.49 75.55 258.43 77.37 256.43 79.02 C254.42 80.67 251.36 82.49 248.32 83.38 C245.29 84.26 241.28 84.53 238.20 84.34 C235.11 84.16 232.16 83.27 229.84 82.26 C227.51 81.25 225.66 79.91 224.24 78.30 C222.83 76.70 221.98 74.55 221.33 72.63 C220.67 70.70 220.26 68.77 220.32 66.74Z" fill="none" stroke="#000" stroke-width="0.70"/>
<path d="M221.39 66.76 C221.41 64.88 221.39 62.62 222.39 60.90 C223.38 59.19 225.38 57.66 227.36 56.47 C229.34 55.28 231.68 54.35 234.25 53.77 C236.82 53.18 240.17 52.98 242.79 52.95 C245.41 52.92 247.89 53.13 249.97 53.59 C252.05 54.05 253.72 54.46 255.27 55.70 C256.82 56.93 258.54 59.13 259.28 60.99 C260.02 62.85 259.82 64.86 259.70 66.86 C259.59 68.85 259.33 71.03 258.60 72.95 C257.88 74.86 257.21 76.80 255.35 78.32 C253.49 79.84 250.29 81.32 247.45 82.07 C244.61 82.82 241.17 82.95 238.31 82.82 C235.45 82.69 232.51 82.15 230.27 81.29 C228.03 80.43 226.21 79.17 224.87 77.64 C223.53 76.11 222.83 73.94 222.25 72.13 C221.67 70.31 221.37 68.63 221.39 66.76Z" fill="none" stroke="#000" stroke-width="0.70"/>
<path d="M222.59 66.71 C222.62 64.96 222.72 62.92 223.64 61.36 C224.55 59.80 226.26 58.43 228.09 57.37 C229.91 56.30 232.23 55.56 234.59 54.98 C236.94 54.40 239.83 53.95 242.22 53.88 C244.61 53.80 246.98 54.05 248.93 54.53 C250.89 55.01 252.53 55.62 253.93 56.74 C255.33 57.86 256.62 59.56 257.35 61.26 C258.08 62.96 258.35 65.05 258.33 66.92 C258.30 68.79 257.92 70.73 257.19 72.47 C256.45 74.21 255.67 75.88 253.90 77.35 C252.13 78.82 249.25 80.49 246.59 81.28 C243.92 82.06 240.53 82.23 237.91 82.06 C235.28 81.88 232.88 81.12 230.84 80.25 C228.81 79.38 226.94 78.24 225.71 76.84 C224.48 75.45 223.98 73.56 223.46 71.87 C222.94 70.18 222.56 68.46 222.59 66.71Z" fill="none" stroke="#000" stroke-width="0.70"/>
<path d="M223.37 66.56 C223.34 64.95 223.43 63.26 224.27 61.85 C225.11 60.43 226.72 59.08 228.42 58.07 C230.12 57.06 232.23 56.38 234.47 55.80 C236.70 55.22 239.56 54.68 241.85 54.61 C244.14 54.54 246.40 54.88 248.20 55.37 C250.00 55.85 251.31 56.47 252.63 57.50 C253.94 58.53 255.45 60.01 256.10 61.53 C256.76 63.05 256.63 64.80 256.54 66.61 C256.44 68.42 256.20 70.72 255.55 72.37 C254.91 74.03 254.32 75.23 252.67 76.54 C251.02 77.85 248.12 79.53 245.67 80.23 C243.23 80.93 240.41 80.90 238.00 80.73 C235.58 80.56 233.04 79.99 231.17 79.21 C229.29 78.44 227.86 77.36 226.74 76.08 C225.61 74.80 224.99 73.11 224.42 71.52 C223.86 69.93 223.40 68.17 223.37 66.56Z" fill="none" stroke="#000" stroke-width="0.95"/>
<path d="M224.20 66.69 C224.20 65.18 224.28 63.60 225.10 62.23 C225.91 60.86 227.52 59.43 229.10 58.46 C230.67 57.49 232.46 56.89 234.53 56.41 C236.60 55.94 239.39 55.65 241.51 55.59 C243.62 55.53 245.59 55.65 247.22 56.06 C248.84 56.47 250.04 57.07 251.26 58.04 C252.48 59.01 253.88 60.39 254.54 61.88 C255.20 63.36 255.30 65.31 255.22 66.95 C255.15 68.60 254.69 70.22 254.08 71.73 C253.46 73.23 253.03 74.73 251.53 75.98 C250.03 77.23 247.37 78.57 245.07 79.22 C242.77 79.87 239.97 79.96 237.71 79.88 C235.46 79.79 233.23 79.46 231.52 78.70 C229.81 77.94 228.51 76.56 227.44 75.32 C226.37 74.09 225.63 72.72 225.09 71.28 C224.55 69.84 224.20 68.20 224.20 66.69Z" fill="none" stroke="#000" stroke-width="0.95"/>
<path d="M225.36 66.88 C225.40 65.48 225.36 63.76 226.05 62.47 C226.74 61.18 228.04 59.99 229.52 59.14 C230.99 58.29 232.92 57.81 234.89 57.36 C236.85 56.91 239.40 56.50 241.32 56.44 C243.23 56.38 244.87 56.63 246.39 57.00 C247.92 57.36 249.31 57.76 250.47 58.65 C251.63 59.54 252.78 61.01 253.35 62.36 C253.92 63.70 253.99 65.22 253.90 66.73 C253.81 68.25 253.39 69.97 252.79 71.45 C252.19 72.93 251.68 74.47 250.30 75.61 C248.92 76.75 246.63 77.75 244.51 78.29 C242.39 78.82 239.71 78.94 237.59 78.82 C235.47 78.70 233.44 78.17 231.78 77.54 C230.13 76.91 228.67 76.16 227.68 75.04 C226.69 73.93 226.23 72.20 225.85 70.84 C225.46 69.48 225.33 68.28 225.36 66.88Z" fill="none" stroke="#000" stroke-width="0.95"/>
<path d="M226.09 66.70 C226.09 65.39 226.00 63.75 226.65 62.59 C227.30 61.43 228.61 60.51 230.00 59.74 C231.39 58.98 233.15 58.42 234.97 57.98 C236.79 57.54 239.12 57.16 240.93 57.12 C242.75 57.07 244.49 57.35 245.85 57.69 C247.21 58.03 248.08 58.27 249.11 59.15 C250.14 60.03 251.45 61.67 252.01 62.95 C252.57 64.24 252.52 65.50 252.46 66.89 C252.40 68.28 252.21 70.00 251.65 71.31 C251.09 72.62 250.38 73.74 249.11 74.75 C247.84 75.76 245.98 76.86 244.04 77.37 C242.10 77.88 239.48 77.91 237.48 77.81 C235.48 77.71 233.53 77.37 232.05 76.77 C230.57 76.16 229.51 75.22 228.60 74.17 C227.70 73.11 227.04 71.68 226.62 70.44 C226.20 69.20 226.08 68.01 226.09 66.70Z" fill="none" stroke="#000" stroke-width="0.95"/>
<path d="M226.95 66.94 C226.97 65.74 227.00 64.04 227.62 62.98 C228.25 61.93 229.45 61.34 230.68 60.60 C231.92 59.85 233.39 58.95 235.03 58.54 C236.67 58.13 238.87 58.18 240.50 58.14 C242.14 58.10 243.57 57.99 244.83 58.28 C246.09 58.58 247.07 59.12 248.07 59.93 C249.06 60.74 250.27 62.04 250.82 63.16 C251.36 64.29 251.41 65.38 251.33 66.67 C251.25 67.97 250.83 69.67 250.32 70.90 C249.81 72.14 249.42 73.13 248.25 74.07 C247.08 75.00 245.14 76.02 243.31 76.52 C241.48 77.01 239.12 77.11 237.29 77.04 C235.46 76.97 233.70 76.64 232.33 76.08 C230.97 75.52 229.90 74.65 229.09 73.66 C228.29 72.68 227.85 71.28 227.49 70.16 C227.14 69.04 226.92 68.13 226.95 66.94Z" fill="none" stroke="#000" stroke-width="0.95"/>
<path d="M227.74 66.61 C227.78 65.54 227.93 64.44 228.52 63.48 C229.11 62.51 230.19 61.48 231.30 60.82 C232.40 60.17 233.71 59.90 235.15 59.54 C236.59 59.18 238.46 58.72 239.93 58.64 C241.40 58.56 242.75 58.77 243.96 59.06 C245.18 59.35 246.29 59.66 247.21 60.39 C248.13 61.11 249.04 62.34 249.48 63.42 C249.91 64.49 249.87 65.65 249.82 66.84 C249.76 68.02 249.57 69.42 249.12 70.51 C248.68 71.60 248.21 72.53 247.14 73.38 C246.07 74.23 244.31 75.12 242.70 75.60 C241.08 76.08 239.06 76.34 237.43 76.26 C235.81 76.18 234.21 75.63 232.96 75.12 C231.71 74.62 230.70 74.12 229.91 73.24 C229.12 72.36 228.59 70.97 228.23 69.86 C227.87 68.76 227.69 67.67 227.74 66.61Z" fill="none" stroke="#000" stroke-width="0.95"/>
<path d="M228.60 66.99 C228.59 65.99 228.49 64.49 228.99 63.60 C229.49 62.71 230.54 62.23 231.60 61.65 C232.66 61.08 233.95 60.50 235.32 60.14 C236.69 59.78 238.47 59.56 239.82 59.50 C241.16 59.45 242.41 59.55 243.41 59.81 C244.41 60.06 245.08 60.37 245.82 61.04 C246.56 61.70 247.42 62.86 247.86 63.80 C248.30 64.74 248.44 65.64 248.46 66.68 C248.48 67.72 248.42 69.04 247.99 70.04 C247.55 71.04 246.86 71.84 245.87 72.67 C244.88 73.49 243.52 74.59 242.06 74.99 C240.59 75.38 238.56 75.16 237.10 75.04 C235.64 74.92 234.37 74.70 233.30 74.27 C232.22 73.83 231.33 73.22 230.63 72.43 C229.93 71.65 229.44 70.49 229.10 69.58 C228.76 68.67 228.62 67.98 228.60 66.99Z" fill="none" stroke="#000" stroke-width="0.95"/>
<path d="M229.56 66.80 C229.54 65.98 229.45 65.06 229.85 64.30 C230.25 63.55 231.08 62.82 231.96 62.27 C232.85 61.72 233.94 61.28 235.15 61.00 C236.35 60.71 238.00 60.60 239.20 60.57 C240.40 60.53 241.40 60.53 242.34 60.77 C243.29 61.00 244.12 61.42 244.88 61.99 C245.64 62.56 246.55 63.40 246.90 64.19 C247.25 64.98 247.05 65.80 246.97 66.72 C246.89 67.64 246.78 68.83 246.42 69.71 C246.07 70.60 245.65 71.31 244.81 72.02 C243.98 72.74 242.72 73.58 241.42 74.00 C240.13 74.41 238.38 74.57 237.04 74.50 C235.70 74.43 234.42 73.99 233.41 73.57 C232.39 73.15 231.51 72.69 230.94 71.97 C230.37 71.25 230.22 70.11 229.99 69.25 C229.76 68.39 229.58 67.63 229.56 66.80Z" fill="none" stroke="#000" stroke-width="0.95"/>
<path d="M230.39 66.96 C230.37 66.22 230.24 65.09 230.62 64.42 C230.99 63.75 231.84 63.37 232.62 62.93 C233.40 62.48 234.25 62.04 235.29 61.76 C236.34 61.47 237.82 61.23 238.90 61.21 C239.98 61.20 240.96 61.43 241.76 61.66 C242.56 61.90 243.12 62.12 243.71 62.61 C244.31 63.10 244.99 63.91 245.35 64.60 C245.71 65.28 245.86 65.87 245.87 66.70 C245.87 67.53 245.73 68.82 245.38 69.58 C245.02 70.35 244.56 70.68 243.75 71.29 C242.94 71.91 241.68 72.88 240.52 73.25 C239.37 73.62 237.94 73.61 236.81 73.54 C235.67 73.47 234.59 73.22 233.72 72.80 C232.84 72.39 232.06 71.73 231.56 71.07 C231.06 70.42 230.90 69.56 230.71 68.87 C230.51 68.19 230.40 67.70 230.39 66.96Z" fill="none" stroke="#000" stroke-width="0.95"/>
<path d="M231.07 67.01 C231.06 66.39 231.20 65.62 231.58 64.98 C231.95 64.34 232.69 63.58 233.33 63.17 C233.97 62.77 234.56 62.77 235.43 62.55 C236.30 62.33 237.64 61.92 238.56 61.86 C239.47 61.79 240.25 61.99 240.94 62.17 C241.63 62.35 242.22 62.46 242.71 62.93 C243.20 63.41 243.64 64.35 243.90 65.03 C244.16 65.70 244.30 66.32 244.29 66.99 C244.27 67.66 244.07 68.39 243.79 69.02 C243.51 69.66 243.24 70.26 242.59 70.80 C241.95 71.34 240.89 71.96 239.91 72.25 C238.94 72.54 237.70 72.63 236.75 72.55 C235.80 72.46 234.93 72.05 234.19 71.72 C233.45 71.40 232.73 71.10 232.30 70.59 C231.87 70.08 231.80 69.27 231.60 68.67 C231.39 68.07 231.07 67.62 231.07 67.01Z" fill="none" stroke="#000" stroke-width="0.95"/>
<path d="M231.86 67.04 C231.86 66.54 232.15 65.80 232.43 65.27 C232.71 64.73 233.04 64.20 233.56 63.82 C234.08 63.44 234.83 63.16 235.56 63.00 C236.28 62.84 237.16 62.84 237.92 62.85 C238.68 62.87 239.50 62.96 240.11 63.07 C240.73 63.19 241.14 63.17 241.60 63.53 C242.05 63.89 242.61 64.68 242.85 65.24 C243.09 65.79 243.04 66.26 243.02 66.87 C243.00 67.47 242.93 68.30 242.73 68.87 C242.52 69.43 242.36 69.87 241.80 70.26 C241.24 70.66 240.20 70.99 239.36 71.23 C238.52 71.47 237.56 71.75 236.74 71.71 C235.93 71.68 235.11 71.32 234.48 71.00 C233.85 70.69 233.31 70.30 232.96 69.83 C232.62 69.37 232.61 68.69 232.42 68.23 C232.24 67.76 231.86 67.53 231.86 67.04Z" fill="none" stroke="#000" stroke-width="0.95"/>
<path d="M232.86 67.03 C232.85 66.60 232.75 66.00 232.96 65.56 C233.17 65.13 233.66 64.74 234.11 64.44 C234.56 64.14 235.01 63.88 235.64 63.77 C236.26 63.66 237.21 63.79 237.86 63.77 C238.50 63.75 239.06 63.55 239.52 63.64 C239.99 63.73 240.31 63.97 240.64 64.29 C240.97 64.61 241.36 65.08 241.52 65.54 C241.67 66.00 241.63 66.57 241.57 67.05 C241.51 67.53 241.30 68.01 241.16 68.42 C241.02 68.83 241.10 69.16 240.70 69.52 C240.31 69.89 239.49 70.43 238.80 70.62 C238.11 70.81 237.19 70.73 236.55 70.65 C235.91 70.58 235.43 70.39 234.96 70.17 C234.49 69.95 234.05 69.65 233.72 69.32 C233.40 68.98 233.17 68.55 233.03 68.17 C232.89 67.78 232.87 67.46 232.86 67.03Z" fill="none" stroke="#000" stroke-width="0.95"/>
<path d="M233.74 66.80 C233.73 66.50 233.76 66.15 233.90 65.88 C234.03 65.61 234.25 65.35 234.56 65.18 C234.87 65.00 235.31 64.93 235.78 64.83 C236.24 64.73 236.86 64.60 237.33 64.56 C237.80 64.52 238.24 64.53 238.58 64.58 C238.92 64.63 239.07 64.64 239.36 64.85 C239.65 65.07 240.16 65.54 240.32 65.88 C240.47 66.21 240.31 66.55 240.29 66.88 C240.27 67.21 240.35 67.51 240.20 67.86 C240.04 68.21 239.69 68.70 239.34 68.99 C238.99 69.28 238.55 69.46 238.10 69.60 C237.66 69.74 237.14 69.90 236.68 69.83 C236.22 69.77 235.75 69.37 235.34 69.21 C234.93 69.05 234.47 69.14 234.23 68.88 C234.00 68.62 234.02 68.01 233.94 67.66 C233.86 67.32 233.74 67.10 233.74 66.80Z" fill="none" stroke="#000" stroke-width="0.95"/>
<path d="M223.54 66.44 C223.83 64.38 224.60 61.07 226.37 59.34 C228.14 57.61 231.47 56.55 234.18 56.07 C236.89 55.58 240.27 55.68 242.63 56.41 C244.98 57.15 247.19 58.72 248.31 60.48 C249.43 62.24 249.82 64.76 249.35 66.97 C248.88 69.18 247.38 72.00 245.48 73.72 C243.59 75.45 240.65 76.88 237.97 77.33 C235.29 77.78 231.62 77.39 229.39 76.45 C227.17 75.50 225.57 73.32 224.60 71.66 C223.62 69.99 223.24 68.49 223.54 66.44Z" fill="none" stroke="#000" stroke-width="0.60"/>
<path d="M226.16 66.50 C226.39 64.85 227.05 62.14 228.41 60.78 C229.78 59.42 232.25 58.69 234.36 58.32 C236.47 57.95 239.17 58.03 241.07 58.58 C242.97 59.13 244.88 60.23 245.77 61.61 C246.65 62.99 246.77 65.11 246.40 66.85 C246.03 68.59 245.03 70.65 243.55 72.05 C242.07 73.46 239.65 74.89 237.49 75.28 C235.33 75.67 232.35 75.16 230.61 74.40 C228.87 73.64 227.78 72.03 227.04 70.71 C226.30 69.39 225.93 68.16 226.16 66.50Z" fill="none" stroke="#000" stroke-width="0.60"/>
<path d="M228.72 66.45 C228.91 65.28 229.37 63.42 230.39 62.43 C231.42 61.43 233.32 60.74 234.87 60.48 C236.43 60.22 238.35 60.44 239.73 60.86 C241.11 61.27 242.51 61.97 243.15 62.97 C243.79 63.98 243.84 65.61 243.58 66.89 C243.31 68.16 242.61 69.61 241.54 70.62 C240.47 71.64 238.74 72.68 237.15 72.98 C235.57 73.28 233.34 73.00 232.02 72.41 C230.71 71.83 229.81 70.48 229.26 69.49 C228.71 68.49 228.53 67.63 228.72 66.45Z" fill="none" stroke="#000" stroke-width="0.60"/>
<path d="M231.01 66.59 C231.13 65.75 231.38 64.45 232.08 63.77 C232.79 63.10 234.18 62.71 235.24 62.52 C236.29 62.34 237.47 62.39 238.39 62.66 C239.32 62.93 240.32 63.45 240.80 64.14 C241.29 64.83 241.49 65.88 241.30 66.79 C241.11 67.70 240.45 68.89 239.67 69.59 C238.89 70.29 237.69 70.80 236.62 70.99 C235.54 71.18 234.09 71.08 233.22 70.71 C232.34 70.34 231.73 69.47 231.37 68.79 C231.00 68.10 230.89 67.42 231.01 66.59Z" fill="none" stroke="#000" stroke-width="0.60"/>
<ellipse cx="237" cy="66.6" rx="3.4" ry="2.1" transform="rotate(-18 237.5 66.3)" fill="#fff"/>
<ellipse cx="245.5" cy="63.2" rx="2.2" ry="1.1" transform="rotate(-15 245.5 63.2)" fill="#ddd"/>
<rect x="264.3" y="40.9" width="71.2" height="49" fill="none" stroke="#444" stroke-width="0.9"/>
<g fill="#777"><rect x="267.8" y="56.0" width="0.8" height="0.8"/><rect x="269.8" y="68.8" width="0.8" height="0.8"/><rect x="270.4" y="74.2" width="0.8" height="0.8"/><rect x="265.8" y="60.5" width="0.8" height="0.8"/><rect x="265.5" y="75.4" width="0.8" height="0.8"/><rect x="265.7" y="57.2" width="0.8" height="0.8"/><rect x="270.3" y="69.1" width="0.8" height="0.8"/><rect x="265.4" y="72.0" width="0.8" height="0.8"/><rect x="270.0" y="67.1" width="0.8" height="0.8"/><rect x="265.4" y="72.3" width="0.8" height="0.8"/><rect x="267.9" y="69.6" width="0.8" height="0.8"/><rect x="272.0" y="75.4" width="0.8" height="0.8"/><rect x="271.1" y="58.6" width="0.8" height="0.8"/><rect x="267.3" y="68.0" width="0.8" height="0.8"/></g>
<rect x="207.5" y="172.8" width="133.1" height="131.9" fill="none" stroke="#707070" stroke-width="1"/><path d="M207.5 172.8V304.7H340.6" fill="none" stroke="#555" stroke-width="1"/>
<g stroke="#3a3a3a" stroke-width="0.8" fill="none"><path d="M207.5 185.5H204.1"/><path d="M207.5 214.5H204.1"/><path d="M207.5 248.5H204.1"/><path d="M207.5 275.5H204.1"/><path d="M207.5 205.5H205.6"/><path d="M207.5 200.5H205.6"/><path d="M207.5 196.5H205.6"/><path d="M207.5 193.5H205.6"/><path d="M207.5 191.5H205.6"/><path d="M207.5 189.5H205.6"/><path d="M207.5 187.5H205.6"/><path d="M207.5 186.5H205.6"/><path d="M207.5 238.5H205.6"/><path d="M207.5 232.5H205.6"/><path d="M207.5 227.5H205.6"/><path d="M207.5 224.5H205.6"/><path d="M207.5 221.5H205.6"/><path d="M207.5 219.5H205.6"/><path d="M207.5 217.5H205.6"/><path d="M207.5 216.5H205.6"/><path d="M207.5 267.5H205.6"/><path d="M207.5 262.5H205.6"/><path d="M207.5 259.5H205.6"/><path d="M207.5 256.5H205.6"/><path d="M207.5 254.5H205.6"/><path d="M207.5 252.5H205.6"/><path d="M207.5 250.5H205.6"/><path d="M207.5 249.5H205.6"/></g>
<path d="M204.2 279.6h3.4v4.8h-3.4l1.4-1.2v-2.4z" fill="#333"/><path d="M205.5 276.3h2.3" stroke="#555" stroke-width="0.7"/>
<g stroke="#3a3a3a" stroke-width="0.8" fill="none"><path d="M207.5 284.5H204.1"/><path d="M207.5 302.5H204.1"/><path d="M207.5 296.5H205.6"/><path d="M207.5 293.5H205.6"/><path d="M207.5 291.5H205.6"/><path d="M207.5 289.5H205.6"/><path d="M207.5 288.5H205.6"/><path d="M207.5 287.5H205.6"/><path d="M207.5 286.5H205.6"/><path d="M207.5 285.5H205.6"/></g>
<g stroke="#3a3a3a" stroke-width="0.75" fill="none"><path d="M237.5 304.7V307.9"/><path d="M267.5 304.7V307.9"/><path d="M297.5 304.7V307.9"/><path d="M327.5 304.7V307.9"/><path d="M340.5 304.7V307.9"/><path d="M246.5 304.7V306.7"/><path d="M251.5 304.7V306.7"/><path d="M255.5 304.7V306.7"/><path d="M258.5 304.7V306.7"/><path d="M260.5 304.7V306.7"/><path d="M262.5 304.7V306.7"/><path d="M264.5 304.7V306.7"/><path d="M266.5 304.7V306.7"/><path d="M276.5 304.7V306.7"/><path d="M281.5 304.7V306.7"/><path d="M285.5 304.7V306.7"/><path d="M288.5 304.7V306.7"/><path d="M290.5 304.7V306.7"/><path d="M292.5 304.7V306.7"/><path d="M294.5 304.7V306.7"/><path d="M296.5 304.7V306.7"/><path d="M306.5 304.7V306.7"/><path d="M311.5 304.7V306.7"/><path d="M315.5 304.7V306.7"/><path d="M318.5 304.7V306.7"/><path d="M320.5 304.7V306.7"/><path d="M322.5 304.7V306.7"/><path d="M324.5 304.7V306.7"/><path d="M325.5 304.7V306.7"/><path d="M331.5 304.7V306.7"/><path d="M333.5 304.7V306.7"/><path d="M334.5 304.7V306.7"/><path d="M336.5 304.7V306.7"/><path d="M337.5 304.7V306.7"/><path d="M338.5 304.7V306.7"/><path d="M338.5 304.7V306.7"/><path d="M339.5 304.7V306.7"/></g>
<rect x="228.1" y="304.7" width="5.4" height="2.4" fill="#333"/>
<g stroke="#3a3a3a" stroke-width="0.8"><path d="M210.5 304.7v2"/><path d="M213.5 304.7v2"/><path d="M216.5 304.7v2"/><path d="M219.5 304.7v2"/><path d="M222.5 304.7v2"/><path d="M225.5 304.7v2"/><path d="M235.5 304.7v2"/></g>
<g fill="#777"><rect x="218.2" y="235.3" width="0.8" height="0.8"/><rect x="252.3" y="257.1" width="0.8" height="0.8"/><rect x="274.6" y="230.2" width="0.8" height="0.8"/><rect x="276.5" y="245.9" width="0.8" height="0.8"/><rect x="222.2" y="227.7" width="0.8" height="0.8"/><rect x="278.2" y="247.9" width="0.8" height="0.8"/><rect x="273.5" y="228.6" width="0.8" height="0.8"/><rect x="267.1" y="221.8" width="0.8" height="0.8"/><rect x="270.2" y="254.2" width="0.8" height="0.8"/><rect x="243.8" y="217.4" width="0.8" height="0.8"/><rect x="267.7" y="220.6" width="0.8" height="0.8"/><rect x="224.9" y="225.7" width="0.8" height="0.8"/><rect x="227.8" y="222.3" width="0.8" height="0.8"/><rect x="277.1" y="236.9" width="0.8" height="0.8"/><rect x="272.1" y="253.1" width="0.8" height="0.8"/><rect x="228.6" y="254.0" width="0.8" height="0.8"/><rect x="271.0" y="251.7" width="0.8" height="0.8"/><rect x="257.7" y="219.0" width="0.8" height="0.8"/><rect x="218.1" y="227.7" width="0.8" height="0.8"/><rect x="223.8" y="248.9" width="0.8" height="0.8"/><rect x="236.6" y="256.1" width="0.8" height="0.8"/><rect x="273.1" y="224.9" width="0.8" height="0.8"/><rect x="277.5" y="235.7" width="0.8" height="0.8"/><rect x="254.1" y="216.0" width="0.8" height="0.8"/><rect x="267.2" y="221.5" width="0.8" height="0.8"/><rect x="271.6" y="219.1" width="0.8" height="0.8"/><rect x="276.9" y="249.6" width="0.8" height="0.8"/><rect x="268.6" y="253.0" width="0.8" height="0.8"/><rect x="225.8" y="224.6" width="0.8" height="0.8"/><rect x="262.3" y="220.7" width="0.8" height="0.8"/><rect x="274.7" y="225.3" width="0.8" height="0.8"/><rect x="236.6" y="256.3" width="0.8" height="0.8"/><rect x="276.4" y="227.4" width="0.8" height="0.8"/><rect x="251.3" y="218.3" width="0.8" height="0.8"/><rect x="270.4" y="224.8" width="0.8" height="0.8"/></g>
<path d="M219.30 236.80 C219.26 234.67 220.05 231.17 221.00 229.50 C221.95 227.83 224.80 225.39 226.40 224.30 C228.00 223.21 231.08 221.87 233.00 221.30 C234.92 220.73 238.27 220.13 240.80 220.00 C243.33 219.87 248.91 220.11 252.00 220.30 C255.09 220.49 261.76 221.00 264.00 221.40 C266.24 221.80 267.64 222.53 268.80 223.30 C269.96 224.07 271.93 226.04 272.70 227.20 C273.47 228.36 274.09 230.72 274.60 232.00 C275.11 233.28 275.61 235.64 276.50 236.80 C277.39 237.96 281.30 239.79 281.30 240.70 C281.30 241.61 277.39 242.71 276.50 243.60 C275.61 244.49 275.24 246.43 274.60 247.40 C273.96 248.37 272.73 250.07 271.70 250.90 C270.67 251.73 269.13 252.88 266.90 253.60 C264.67 254.32 257.96 255.89 255.00 256.30 C252.04 256.71 247.50 256.81 244.70 256.70 C241.90 256.59 236.44 256.10 234.00 255.50 C231.56 254.90 228.09 253.53 226.40 252.20 C224.71 250.87 222.25 247.55 221.30 245.50 C220.35 243.45 219.34 238.93 219.30 236.80Z" fill="none" stroke="#111" stroke-width="0.7"/>
<path d="M220.45 236.86 C220.38 234.33 220.83 231.95 221.89 230.02 C222.95 228.09 224.89 226.54 226.84 225.29 C228.79 224.03 231.22 223.16 233.59 222.47 C235.96 221.78 237.98 221.33 241.07 221.15 C244.16 220.96 248.78 221.04 252.13 221.35 C255.48 221.66 258.91 222.22 261.17 223.00 C263.43 223.78 264.62 224.52 265.68 226.01 C266.73 227.50 267.11 229.97 267.52 231.94 C267.92 233.90 268.16 235.82 268.10 237.80 C268.04 239.78 267.77 241.78 267.17 243.84 C266.57 245.90 265.85 248.53 264.49 250.15 C263.14 251.76 261.32 252.73 259.04 253.52 C256.76 254.30 253.36 254.53 250.84 254.86 C248.31 255.18 246.69 255.58 243.91 255.46 C241.13 255.33 236.93 254.86 234.14 254.09 C231.35 253.32 229.14 252.30 227.17 250.81 C225.20 249.33 223.46 247.51 222.34 245.19 C221.22 242.86 220.53 239.38 220.45 236.86Z" fill="none" stroke="#000" stroke-width="0.70"/>
<path d="M221.58 236.96 C221.56 234.62 222.09 232.07 223.10 230.24 C224.11 228.42 225.88 227.13 227.65 226.01 C229.41 224.89 231.52 224.11 233.69 223.51 C235.86 222.91 237.79 222.60 240.68 222.40 C243.56 222.20 247.87 222.12 251.01 222.30 C254.15 222.49 257.41 222.78 259.53 223.53 C261.65 224.28 262.70 225.34 263.73 226.80 C264.76 228.26 265.36 230.46 265.71 232.28 C266.07 234.10 265.99 235.84 265.86 237.72 C265.74 239.60 265.49 241.67 264.95 243.57 C264.42 245.48 263.86 247.69 262.63 249.15 C261.40 250.62 259.64 251.59 257.58 252.34 C255.51 253.10 252.57 253.34 250.22 253.66 C247.87 253.98 246.15 254.33 243.48 254.25 C240.81 254.18 236.79 253.89 234.19 253.19 C231.59 252.49 229.70 251.53 227.86 250.05 C226.03 248.57 224.23 246.47 223.18 244.29 C222.13 242.10 221.59 239.30 221.58 236.96Z" fill="none" stroke="#000" stroke-width="0.70"/>
<path d="M222.93 236.61 C222.88 234.45 223.19 232.50 224.08 230.86 C224.97 229.22 226.63 227.83 228.28 226.74 C229.92 225.66 231.89 224.92 233.95 224.33 C236.01 223.75 237.93 223.38 240.61 223.22 C243.30 223.07 247.18 223.21 250.06 223.41 C252.94 223.61 255.93 223.75 257.89 224.43 C259.85 225.12 260.84 226.13 261.82 227.51 C262.80 228.90 263.41 231.03 263.75 232.74 C264.10 234.46 263.99 236.07 263.91 237.81 C263.82 239.54 263.70 241.39 263.23 243.14 C262.75 244.89 262.26 246.95 261.08 248.32 C259.91 249.70 258.15 250.69 256.16 251.39 C254.18 252.09 251.36 252.26 249.17 252.50 C246.98 252.74 245.47 252.93 243.03 252.81 C240.59 252.70 236.93 252.46 234.53 251.82 C232.12 251.17 230.28 250.29 228.59 248.95 C226.89 247.61 225.32 245.85 224.37 243.79 C223.43 241.73 222.98 238.76 222.93 236.61Z" fill="none" stroke="#000" stroke-width="0.70"/>
<path d="M223.86 236.86 C223.82 234.78 224.27 232.62 225.12 231.06 C225.98 229.50 227.42 228.48 228.99 227.47 C230.56 226.45 232.63 225.51 234.55 224.98 C236.46 224.44 237.99 224.38 240.48 224.26 C242.96 224.15 246.75 224.10 249.47 224.29 C252.18 224.47 254.92 224.80 256.75 225.39 C258.58 225.97 259.54 226.56 260.44 227.80 C261.34 229.04 261.85 231.22 262.15 232.82 C262.46 234.42 262.39 235.75 262.26 237.39 C262.14 239.03 261.84 241.02 261.39 242.67 C260.93 244.32 260.61 246.05 259.54 247.30 C258.46 248.54 256.80 249.45 254.95 250.13 C253.09 250.81 250.44 251.07 248.41 251.37 C246.38 251.67 245.03 251.99 242.79 251.92 C240.55 251.85 237.24 251.57 234.96 250.95 C232.67 250.34 230.68 249.48 229.08 248.24 C227.49 247.01 226.26 245.45 225.39 243.55 C224.52 241.65 223.91 238.94 223.86 236.86Z" fill="none" stroke="#000" stroke-width="0.70"/>
<path d="M224.98 236.78 C224.94 234.93 225.06 233.10 225.88 231.68 C226.70 230.25 228.46 229.15 229.89 228.21 C231.32 227.28 232.75 226.63 234.46 226.09 C236.18 225.55 237.82 225.09 240.19 224.96 C242.56 224.84 246.16 225.13 248.69 225.32 C251.21 225.50 253.67 225.50 255.35 226.08 C257.03 226.66 257.92 227.61 258.76 228.80 C259.59 229.99 260.05 231.76 260.36 233.22 C260.67 234.69 260.73 236.12 260.63 237.60 C260.54 239.08 260.22 240.58 259.79 242.10 C259.35 243.62 258.99 245.56 258.01 246.74 C257.02 247.92 255.58 248.56 253.90 249.17 C252.22 249.78 249.80 250.17 247.93 250.39 C246.06 250.60 244.80 250.53 242.68 250.45 C240.55 250.36 237.36 250.38 235.19 249.89 C233.02 249.40 231.16 248.70 229.65 247.51 C228.14 246.32 226.90 244.54 226.12 242.75 C225.34 240.97 225.02 238.63 224.98 236.78Z" fill="none" stroke="#000" stroke-width="0.95"/>
<path d="M225.73 236.60 C225.73 234.90 226.02 233.42 226.80 232.11 C227.57 230.80 229.04 229.63 230.37 228.74 C231.71 227.86 233.17 227.28 234.81 226.81 C236.45 226.35 238.02 226.05 240.22 225.93 C242.41 225.82 245.67 226.00 247.98 226.13 C250.28 226.27 252.51 226.22 254.06 226.74 C255.62 227.27 256.55 228.18 257.31 229.28 C258.08 230.39 258.35 232.01 258.66 233.39 C258.96 234.76 259.23 236.13 259.13 237.53 C259.04 238.92 258.56 240.37 258.10 241.75 C257.64 243.12 257.24 244.69 256.36 245.79 C255.48 246.90 254.36 247.76 252.82 248.37 C251.29 248.97 248.92 249.24 247.14 249.43 C245.36 249.63 244.13 249.61 242.13 249.55 C240.13 249.48 237.11 249.52 235.14 249.03 C233.18 248.53 231.73 247.68 230.35 246.57 C228.96 245.46 227.61 244.02 226.85 242.36 C226.08 240.70 225.74 238.31 225.73 236.60Z" fill="none" stroke="#000" stroke-width="0.95"/>
<path d="M226.71 236.67 C226.66 235.07 227.00 233.63 227.66 232.40 C228.33 231.17 229.49 230.10 230.70 229.29 C231.90 228.48 233.37 227.99 234.89 227.53 C236.41 227.07 237.76 226.67 239.82 226.53 C241.89 226.39 245.11 226.49 247.28 226.69 C249.45 226.90 251.40 227.23 252.84 227.75 C254.28 228.27 255.19 228.86 255.92 229.83 C256.65 230.80 256.90 232.32 257.20 233.57 C257.49 234.83 257.71 236.07 257.68 237.35 C257.66 238.63 257.43 239.95 257.05 241.25 C256.66 242.55 256.25 244.12 255.36 245.14 C254.46 246.16 253.17 246.76 251.66 247.35 C250.15 247.94 247.95 248.45 246.32 248.70 C244.69 248.95 243.72 248.97 241.88 248.84 C240.05 248.72 237.17 248.43 235.30 247.95 C233.44 247.46 231.92 246.93 230.69 245.95 C229.46 244.96 228.60 243.58 227.94 242.03 C227.28 240.48 226.75 238.28 226.71 236.67Z" fill="none" stroke="#000" stroke-width="0.95"/>
<path d="M227.45 236.85 C227.44 235.39 227.93 233.84 228.56 232.67 C229.19 231.50 230.11 230.56 231.23 229.83 C232.35 229.10 233.86 228.68 235.28 228.28 C236.70 227.89 237.88 227.58 239.74 227.44 C241.61 227.31 244.44 227.30 246.45 227.45 C248.46 227.60 250.44 227.89 251.81 228.35 C253.18 228.81 254.01 229.26 254.66 230.20 C255.31 231.14 255.51 232.79 255.71 233.99 C255.90 235.19 255.86 236.24 255.82 237.41 C255.78 238.59 255.80 239.81 255.47 241.02 C255.15 242.24 254.67 243.74 253.88 244.70 C253.09 245.66 252.09 246.34 250.76 246.79 C249.43 247.24 247.44 247.27 245.90 247.41 C244.36 247.55 243.22 247.66 241.53 247.63 C239.84 247.61 237.49 247.68 235.78 247.28 C234.07 246.88 232.45 246.21 231.26 245.24 C230.06 244.26 229.25 242.82 228.61 241.42 C227.98 240.02 227.46 238.31 227.45 236.85Z" fill="none" stroke="#000" stroke-width="0.95"/>
<path d="M228.33 236.76 C228.33 235.39 228.64 233.92 229.26 232.84 C229.88 231.75 231.01 230.93 232.05 230.26 C233.10 229.58 234.25 229.11 235.54 228.77 C236.84 228.43 238.13 228.27 239.84 228.20 C241.55 228.12 244.03 228.16 245.82 228.32 C247.62 228.48 249.37 228.74 250.60 229.15 C251.83 229.56 252.61 230.01 253.21 230.80 C253.81 231.59 253.97 232.80 254.19 233.89 C254.41 234.98 254.55 236.23 254.53 237.35 C254.51 238.46 254.42 239.47 254.07 240.56 C253.72 241.66 253.16 243.07 252.43 243.93 C251.70 244.79 250.90 245.28 249.70 245.71 C248.50 246.15 246.66 246.39 245.25 246.54 C243.83 246.70 242.81 246.72 241.22 246.66 C239.64 246.60 237.23 246.52 235.72 246.19 C234.20 245.85 233.22 245.51 232.14 244.66 C231.06 243.81 229.87 242.41 229.24 241.10 C228.61 239.78 228.33 238.14 228.33 236.76Z" fill="none" stroke="#000" stroke-width="0.95"/>
<path d="M229.43 236.53 C229.40 235.25 229.44 234.18 229.93 233.23 C230.41 232.27 231.38 231.43 232.34 230.80 C233.31 230.18 234.48 229.79 235.71 229.45 C236.93 229.12 238.16 228.86 239.69 228.81 C241.21 228.76 243.25 229.00 244.88 229.16 C246.51 229.33 248.33 229.42 249.48 229.78 C250.63 230.15 251.26 230.64 251.80 231.36 C252.35 232.08 252.51 233.15 252.73 234.11 C252.94 235.07 253.14 236.10 253.10 237.14 C253.07 238.17 252.82 239.31 252.52 240.32 C252.23 241.32 252.03 242.35 251.35 243.16 C250.67 243.97 249.58 244.75 248.45 245.17 C247.31 245.58 245.74 245.56 244.51 245.67 C243.28 245.77 242.45 245.89 241.05 245.80 C239.65 245.72 237.51 245.50 236.11 245.17 C234.70 244.83 233.63 244.48 232.63 243.78 C231.63 243.07 230.63 242.13 230.09 240.93 C229.56 239.72 229.45 237.81 229.43 236.53Z" fill="none" stroke="#000" stroke-width="0.95"/>
<path d="M230.03 236.53 C229.97 235.41 230.11 234.43 230.63 233.59 C231.15 232.76 232.27 232.08 233.15 231.53 C234.04 230.99 234.93 230.65 235.94 230.32 C236.95 230.00 237.79 229.65 239.19 229.58 C240.60 229.52 242.82 229.80 244.36 229.94 C245.89 230.08 247.38 230.11 248.40 230.41 C249.42 230.71 249.97 231.04 250.48 231.73 C251.00 232.43 251.34 233.69 251.50 234.57 C251.65 235.46 251.49 236.17 251.44 237.04 C251.38 237.92 251.45 238.87 251.17 239.81 C250.90 240.76 250.42 242.00 249.80 242.72 C249.18 243.45 248.44 243.78 247.46 244.16 C246.48 244.54 245.07 244.86 243.92 244.99 C242.77 245.11 241.87 244.99 240.55 244.90 C239.24 244.80 237.28 244.72 236.03 244.43 C234.78 244.14 233.89 243.84 233.05 243.17 C232.21 242.49 231.51 241.46 231.00 240.36 C230.50 239.25 230.09 237.66 230.03 236.53Z" fill="none" stroke="#000" stroke-width="0.95"/>
<path d="M230.96 236.65 C230.90 235.68 231.05 234.79 231.51 234.04 C231.97 233.29 232.96 232.67 233.72 232.16 C234.47 231.64 235.13 231.26 236.06 230.97 C236.99 230.68 238.02 230.47 239.30 230.42 C240.58 230.37 242.43 230.54 243.76 230.66 C245.09 230.78 246.41 230.85 247.30 231.15 C248.18 231.45 248.66 231.85 249.06 232.45 C249.46 233.06 249.52 234.01 249.69 234.78 C249.86 235.55 250.11 236.31 250.08 237.06 C250.05 237.82 249.75 238.50 249.51 239.33 C249.27 240.15 249.17 241.39 248.64 242.03 C248.11 242.67 247.23 242.90 246.31 243.19 C245.38 243.47 244.06 243.57 243.09 243.74 C242.12 243.91 241.57 244.25 240.47 244.21 C239.38 244.17 237.65 243.87 236.52 243.52 C235.39 243.18 234.46 242.74 233.68 242.13 C232.90 241.51 232.31 240.74 231.86 239.83 C231.40 238.92 231.02 237.61 230.96 236.65Z" fill="none" stroke="#000" stroke-width="0.95"/>
<path d="M231.68 236.66 C231.65 235.74 231.87 234.82 232.26 234.14 C232.64 233.45 233.28 232.96 233.97 232.56 C234.67 232.16 235.63 231.93 236.45 231.72 C237.26 231.52 237.82 231.41 238.87 231.31 C239.92 231.21 241.54 231.08 242.74 231.14 C243.95 231.19 245.30 231.36 246.10 231.64 C246.90 231.93 247.20 232.29 247.56 232.85 C247.91 233.42 248.11 234.34 248.25 235.04 C248.38 235.75 248.38 236.41 248.38 237.09 C248.39 237.77 248.49 238.43 248.27 239.14 C248.06 239.85 247.61 240.78 247.09 241.34 C246.57 241.89 245.92 242.21 245.16 242.45 C244.40 242.70 243.35 242.68 242.52 242.80 C241.68 242.92 241.13 243.19 240.15 243.17 C239.17 243.15 237.63 242.91 236.63 242.66 C235.63 242.40 234.86 242.12 234.15 241.61 C233.45 241.11 232.81 240.45 232.40 239.62 C231.98 238.80 231.70 237.57 231.68 236.66Z" fill="none" stroke="#000" stroke-width="0.95"/>
<path d="M232.95 236.71 C233.00 235.93 233.06 235.11 233.38 234.48 C233.71 233.86 234.35 233.36 234.89 232.97 C235.44 232.58 235.98 232.31 236.64 232.15 C237.31 231.99 237.94 232.04 238.88 232.01 C239.82 231.98 241.29 231.94 242.28 231.98 C243.28 232.02 244.18 232.05 244.84 232.27 C245.49 232.48 245.89 232.77 246.21 233.26 C246.53 233.76 246.63 234.64 246.76 235.24 C246.89 235.84 247.04 236.27 247.01 236.87 C246.98 237.46 246.78 238.23 246.58 238.83 C246.38 239.43 246.20 239.98 245.83 240.46 C245.45 240.93 244.95 241.40 244.32 241.68 C243.70 241.96 242.81 242.04 242.09 242.15 C241.37 242.25 240.85 242.35 239.98 242.31 C239.11 242.27 237.80 242.16 236.89 241.90 C235.98 241.64 235.16 241.18 234.53 240.73 C233.89 240.28 233.36 239.87 233.10 239.20 C232.83 238.53 232.90 237.50 232.95 236.71Z" fill="none" stroke="#000" stroke-width="0.95"/>
<path d="M233.71 236.63 C233.65 236.00 233.67 235.30 233.91 234.82 C234.14 234.34 234.59 234.07 235.12 233.75 C235.64 233.44 236.50 233.12 237.07 232.92 C237.65 232.73 237.84 232.57 238.57 232.57 C239.30 232.57 240.56 232.83 241.44 232.91 C242.33 232.99 243.33 232.92 243.87 233.06 C244.42 233.19 244.48 233.31 244.72 233.72 C244.95 234.12 245.13 234.94 245.26 235.49 C245.39 236.04 245.46 236.52 245.49 237.02 C245.51 237.52 245.56 238.00 245.41 238.49 C245.27 238.99 245.00 239.65 244.62 240.00 C244.23 240.35 243.66 240.41 243.10 240.59 C242.54 240.78 241.89 241.04 241.28 241.13 C240.66 241.21 240.13 241.11 239.38 241.10 C238.64 241.09 237.48 241.22 236.81 241.09 C236.13 240.96 235.76 240.72 235.33 240.30 C234.91 239.89 234.54 239.21 234.27 238.60 C234.00 237.99 233.77 237.26 233.71 236.63Z" fill="none" stroke="#000" stroke-width="0.95"/>
<path d="M234.59 236.51 C234.61 236.07 234.75 235.74 234.92 235.34 C235.10 234.93 235.31 234.33 235.65 234.07 C236.00 233.80 236.50 233.87 236.99 233.73 C237.47 233.60 237.89 233.28 238.55 233.26 C239.21 233.24 240.26 233.56 240.93 233.61 C241.60 233.67 242.13 233.44 242.59 233.58 C243.04 233.71 243.46 234.09 243.66 234.41 C243.85 234.74 243.68 235.11 243.75 235.53 C243.81 235.95 244.04 236.49 244.05 236.91 C244.06 237.34 243.94 237.69 243.79 238.06 C243.65 238.42 243.42 238.80 243.18 239.10 C242.94 239.40 242.82 239.66 242.36 239.85 C241.91 240.04 240.99 240.19 240.44 240.24 C239.89 240.28 239.59 240.17 239.05 240.14 C238.51 240.11 237.72 240.18 237.18 240.07 C236.65 239.96 236.25 239.82 235.85 239.48 C235.46 239.14 235.05 238.52 234.84 238.03 C234.63 237.53 234.58 236.96 234.59 236.51Z" fill="none" stroke="#000" stroke-width="0.95"/>
<path d="M235.46 236.37 C235.43 236.00 235.43 235.73 235.59 235.49 C235.75 235.24 236.15 235.08 236.42 234.91 C236.69 234.73 236.87 234.58 237.22 234.46 C237.57 234.34 238.07 234.22 238.53 234.21 C238.98 234.20 239.46 234.40 239.96 234.41 C240.45 234.42 241.15 234.15 241.49 234.27 C241.83 234.39 241.88 234.87 242.02 235.12 C242.16 235.37 242.23 235.50 242.33 235.78 C242.43 236.07 242.60 236.50 242.62 236.82 C242.63 237.15 242.54 237.47 242.40 237.72 C242.27 237.98 241.97 238.12 241.79 238.36 C241.61 238.60 241.68 239.05 241.34 239.17 C241.00 239.29 240.19 239.04 239.77 239.09 C239.34 239.15 239.21 239.47 238.80 239.49 C238.38 239.51 237.67 239.35 237.29 239.22 C236.91 239.10 236.77 238.99 236.52 238.73 C236.28 238.47 235.99 238.07 235.81 237.68 C235.64 237.29 235.50 236.73 235.46 236.37Z" fill="none" stroke="#000" stroke-width="0.95"/>
<path d="M223.15 236.34 C223.32 234.02 224.32 230.55 226.18 228.77 C228.04 226.98 231.57 226.06 234.32 225.62 C237.06 225.18 240.30 225.42 242.63 226.13 C244.97 226.83 247.14 228.10 248.32 229.84 C249.51 231.58 250.01 234.18 249.73 236.57 C249.45 238.97 248.47 242.23 246.64 244.21 C244.82 246.19 241.48 247.92 238.78 248.47 C236.07 249.01 232.66 248.47 230.39 247.51 C228.12 246.54 226.36 244.56 225.15 242.70 C223.94 240.83 222.97 238.66 223.15 236.34Z" fill="none" stroke="#000" stroke-width="0.60"/>
<path d="M226.28 236.51 C226.36 234.68 226.94 231.75 228.37 230.29 C229.81 228.83 232.69 228.11 234.89 227.74 C237.09 227.36 239.71 227.48 241.59 228.03 C243.48 228.58 245.24 229.62 246.20 231.03 C247.16 232.45 247.61 234.64 247.35 236.52 C247.08 238.40 246.06 240.78 244.61 242.31 C243.17 243.84 240.80 245.28 238.67 245.71 C236.54 246.15 233.65 245.67 231.85 244.93 C230.06 244.20 228.82 242.72 227.89 241.31 C226.96 239.91 226.20 238.35 226.28 236.51Z" fill="none" stroke="#000" stroke-width="0.60"/>
<path d="M229.21 236.24 C229.31 234.93 229.89 233.12 230.97 232.07 C232.05 231.02 234.09 230.22 235.68 229.92 C237.27 229.62 239.11 229.84 240.49 230.26 C241.86 230.67 243.20 231.37 243.90 232.41 C244.60 233.45 244.86 235.14 244.68 236.51 C244.50 237.88 243.89 239.51 242.81 240.62 C241.72 241.72 239.76 242.77 238.20 243.12 C236.64 243.47 234.74 243.25 233.43 242.72 C232.13 242.19 231.06 241.01 230.36 239.93 C229.65 238.85 229.10 237.55 229.21 236.24Z" fill="none" stroke="#000" stroke-width="0.60"/>
<path d="M231.77 236.35 C231.86 235.46 232.24 234.12 232.98 233.40 C233.73 232.68 235.12 232.23 236.24 232.03 C237.36 231.84 238.76 231.99 239.71 232.24 C240.66 232.48 241.47 232.82 241.94 233.51 C242.40 234.21 242.64 235.43 242.49 236.42 C242.35 237.41 241.84 238.67 241.09 239.47 C240.34 240.26 239.05 240.98 237.97 241.20 C236.90 241.41 235.55 241.16 234.63 240.75 C233.72 240.33 232.96 239.46 232.49 238.72 C232.01 237.99 231.69 237.23 231.77 236.35Z" fill="none" stroke="#000" stroke-width="0.60"/>
<ellipse cx="239" cy="235.8" rx="3.2" ry="1.5" transform="rotate(-20 239 235.6)" fill="#fff"/>
<rect x="264.5" y="211.2" width="71" height="49.5" fill="none" stroke="#444" stroke-width="0.9"/>
<g fill="#777"><rect x="278.9" y="244.0" width="0.8" height="0.8"/><rect x="284.6" y="243.2" width="0.8" height="0.8"/><rect x="286.8" y="237.8" width="0.8" height="0.8"/><rect x="287.2" y="234.1" width="0.8" height="0.8"/><rect x="287.7" y="219.8" width="0.8" height="0.8"/><rect x="281.1" y="233.4" width="0.8" height="0.8"/><rect x="281.0" y="246.2" width="0.8" height="0.8"/><rect x="283.9" y="239.7" width="0.8" height="0.8"/><rect x="287.8" y="228.7" width="0.8" height="0.8"/><rect x="277.7" y="249.6" width="0.8" height="0.8"/><rect x="282.3" y="224.5" width="0.8" height="0.8"/><rect x="282.4" y="230.7" width="0.8" height="0.8"/><rect x="286.9" y="247.0" width="0.8" height="0.8"/><rect x="278.8" y="248.1" width="0.8" height="0.8"/><rect x="277.7" y="245.4" width="0.8" height="0.8"/><rect x="283.3" y="238.1" width="0.8" height="0.8"/><rect x="275.3" y="237.0" width="0.8" height="0.8"/><rect x="271.8" y="235.1" width="0.8" height="0.8"/><rect x="273.6" y="247.5" width="0.8" height="0.8"/><rect x="277.1" y="222.0" width="0.8" height="0.8"/><rect x="283.3" y="241.6" width="0.8" height="0.8"/><rect x="279.0" y="253.8" width="0.8" height="0.8"/><rect x="284.1" y="239.5" width="0.8" height="0.8"/><rect x="278.4" y="218.3" width="0.8" height="0.8"/><rect x="282.9" y="245.7" width="0.8" height="0.8"/><rect x="278.6" y="229.1" width="0.8" height="0.8"/><rect x="280.8" y="227.3" width="0.8" height="0.8"/><rect x="281.0" y="244.4" width="0.8" height="0.8"/><rect x="287.0" y="240.9" width="0.8" height="0.8"/><rect x="281.8" y="244.2" width="0.8" height="0.8"/><rect x="286.6" y="236.8" width="0.8" height="0.8"/><rect x="276.1" y="233.5" width="0.8" height="0.8"/><rect x="276.0" y="232.8" width="0.8" height="0.8"/><rect x="280.5" y="241.4" width="0.8" height="0.8"/><rect x="281.6" y="239.5" width="0.8" height="0.8"/><rect x="279.6" y="242.0" width="0.8" height="0.8"/><rect x="284.5" y="244.3" width="0.8" height="0.8"/><rect x="287.0" y="237.0" width="0.8" height="0.8"/><rect x="280.0" y="250.9" width="0.8" height="0.8"/><rect x="281.8" y="241.9" width="0.8" height="0.8"/><rect x="279.7" y="245.8" width="0.8" height="0.8"/><rect x="279.4" y="231.9" width="0.8" height="0.8"/><rect x="280.8" y="235.9" width="0.8" height="0.8"/><rect x="284.3" y="236.4" width="0.8" height="0.8"/><rect x="281.5" y="237.5" width="0.8" height="0.8"/></g>
<path d="M193.85 88.50V315.40H252.10" fill="none" stroke="#000" stroke-width="1.15"/><path d="M193.85 82.50l-4.65 9.4h9.3z" fill="#000"/><path d="M258.10 315.40l-9.4 -4.65v9.3z" fill="#000"/>
<rect x="385.5" y="2.3" width="132.1" height="131.7" fill="none" stroke="#707070" stroke-width="1"/><path d="M385.5 2.3V134.0H517.6" fill="none" stroke="#555" stroke-width="1"/>
<g stroke="#3a3a3a" stroke-width="0.8" fill="none"><path d="M385.5 8.5H382.1"/><path d="M385.5 14.5H383.6"/><path d="M385.5 20.5H383.6"/><path d="M385.5 27.5H383.6"/><path d="M385.5 33.5H382.1"/><path d="M385.5 39.5H383.6"/><path d="M385.5 46.5H383.6"/><path d="M385.5 52.5H383.6"/><path d="M385.5 58.5H382.1"/><path d="M385.5 64.5H383.6"/><path d="M385.5 71.5H383.6"/><path d="M385.5 77.5H383.6"/><path d="M385.5 83.5H382.1"/><path d="M385.5 89.5H383.6"/><path d="M385.5 96.5H383.6"/><path d="M385.5 102.5H383.6"/><path d="M385.5 108.5H382.1"/><path d="M385.5 115.5H383.6"/><path d="M385.5 121.5H383.6"/><path d="M385.5 127.5H383.6"/></g>
<g stroke="#3a3a3a" stroke-width="0.75" fill="none"><path d="M413.5 134.0V137.2"/><path d="M442.5 134.0V137.2"/><path d="M470.5 134.0V137.2"/><path d="M499.5 134.0V137.2"/><path d="M517.5 134.0V137.2"/><path d="M422.5 134.0V136.0"/><path d="M427.5 134.0V136.0"/><path d="M430.5 134.0V136.0"/><path d="M433.5 134.0V136.0"/><path d="M435.5 134.0V136.0"/><path d="M437.5 134.0V136.0"/><path d="M439.5 134.0V136.0"/><path d="M440.5 134.0V136.0"/><path d="M450.5 134.0V136.0"/><path d="M455.5 134.0V136.0"/><path d="M459.5 134.0V136.0"/><path d="M462.5 134.0V136.0"/><path d="M464.5 134.0V136.0"/><path d="M466.5 134.0V136.0"/><path d="M468.5 134.0V136.0"/><path d="M469.5 134.0V136.0"/><path d="M479.5 134.0V136.0"/><path d="M484.5 134.0V136.0"/><path d="M488.5 134.0V136.0"/><path d="M490.5 134.0V136.0"/><path d="M493.5 134.0V136.0"/><path d="M494.5 134.0V136.0"/><path d="M496.5 134.0V136.0"/><path d="M498.5 134.0V136.0"/><path d="M504.5 134.0V136.0"/><path d="M507.5 134.0V136.0"/><path d="M509.5 134.0V136.0"/><path d="M511.5 134.0V136.0"/><path d="M513.5 134.0V136.0"/><path d="M514.5 134.0V136.0"/><path d="M515.5 134.0V136.0"/><path d="M516.5 134.0V136.0"/></g>
<rect x="405.6" y="134" width="4.9" height="2.4" fill="#333"/>
<g stroke="#3a3a3a" stroke-width="0.8"><path d="M388.5 134v2"/><path d="M391.5 134v2"/><path d="M394.5 134v2"/><path d="M397.5 134v2"/><path d="M400.5 134v2"/><path d="M403.5 134v2"/><path d="M411.5 134v2"/></g>
<path d="M391.4 133.5 L394.5 124.0 L397.7 115.9 L400.8 111.7 L402.8 100.3 L406.0 87.9 L408.0 71.2 L409.0 65.0 L410.0 45.7 L411.2 27.0 L413.7 16.6 L415.1 22.8 L417.9 9.3 L419.5 17.0 L421.0 26.0 L424.1 18.7 L426.2 27.0 L427.5 40.0 L428.8 65.0 L429.9 79.5 L431.9 75.4 L434.0 79.5 L435.7 102.4 L437.1 123.2 L439.2 130.4 L442.3 133.5Z" fill="#adadad" stroke="#777" stroke-width="0.7" stroke-linejoin="round"/>
<path d="M385.8 133.5 L389.0 131.5 L392.5 126.3 L395.5 123.5 L398.7 122.1 L401.5 118.5 L403.9 114.9 L405.4 108.0 L406.6 100.3 L408.0 81.6 L409.3 66.0 L411.2 75.4 L412.3 86.0 L413.2 94.1 L414.3 86.0 L415.3 77.5 L416.4 65.0 L417.4 47.8 L419.9 39.5 L423.0 29.0 L424.1 24.9 L425.3 31.0 L426.3 30.0 L427.5 18.0 L428.9 10.4 L430.7 24.9 L432.4 46.7 L434.0 48.8 L435.5 56.0 L437.1 68.1 L438.5 75.0 L439.5 72.5 L440.5 78.0 L441.7 90.0 L443.4 110.7 L445.4 125.2 L448.5 132.5 L452.0 133.5 L517.4 133.5" fill="none" stroke="#000" stroke-width="2.5" stroke-linejoin="round"/>
<rect x="438.8" y="17.2" width="20" height="3.7" fill="#000"/>
<rect x="439.1" y="30.3" width="20" height="5.7" fill="#adadad" stroke="#666" stroke-width="0.8"/>
<path d="M372.40 88.60V146.40H430.80" fill="none" stroke="#000" stroke-width="1.15"/><path d="M372.40 82.60l-4.65 9.4h9.3z" fill="#000"/><path d="M436.80 146.40l-9.4 -4.65v9.3z" fill="#000"/>
<rect x="385.5" y="172.7" width="132.1" height="131.9" fill="none" stroke="#707070" stroke-width="1"/><path d="M385.5 172.7V304.6H517.6" fill="none" stroke="#555" stroke-width="1"/>
<g stroke="#3a3a3a" stroke-width="0.8" fill="none"><path d="M385.5 178.5H382.1"/><path d="M385.5 184.5H383.6"/><path d="M385.5 191.5H383.6"/><path d="M385.5 197.5H383.6"/><path d="M385.5 203.5H382.1"/><path d="M385.5 210.5H383.6"/><path d="M385.5 216.5H383.6"/><path d="M385.5 222.5H383.6"/><path d="M385.5 229.5H382.1"/><path d="M385.5 235.5H383.6"/><path d="M385.5 241.5H383.6"/><path d="M385.5 248.5H383.6"/><path d="M385.5 254.5H382.1"/><path d="M385.5 260.5H383.6"/><path d="M385.5 267.5H383.6"/><path d="M385.5 273.5H383.6"/><path d="M385.5 279.5H382.1"/><path d="M385.5 286.5H383.6"/><path d="M385.5 292.5H383.6"/><path d="M385.5 298.5H383.6"/></g>
<g stroke="#3a3a3a" stroke-width="0.75" fill="none"><path d="M413.5 304.6V307.8"/><path d="M442.5 304.6V307.8"/><path d="M470.5 304.6V307.8"/><path d="M499.5 304.6V307.8"/><path d="M517.5 304.6V307.8"/><path d="M422.5 304.6V306.6"/><path d="M427.5 304.6V306.6"/><path d="M430.5 304.6V306.6"/><path d="M433.5 304.6V306.6"/><path d="M435.5 304.6V306.6"/><path d="M437.5 304.6V306.6"/><path d="M439.5 304.6V306.6"/><path d="M440.5 304.6V306.6"/><path d="M450.5 304.6V306.6"/><path d="M455.5 304.6V306.6"/><path d="M459.5 304.6V306.6"/><path d="M462.5 304.6V306.6"/><path d="M464.5 304.6V306.6"/><path d="M466.5 304.6V306.6"/><path d="M468.5 304.6V306.6"/><path d="M469.5 304.6V306.6"/><path d="M479.5 304.6V306.6"/><path d="M484.5 304.6V306.6"/><path d="M488.5 304.6V306.6"/><path d="M490.5 304.6V306.6"/><path d="M493.5 304.6V306.6"/><path d="M494.5 304.6V306.6"/><path d="M496.5 304.6V306.6"/><path d="M498.5 304.6V306.6"/><path d="M504.5 304.6V306.6"/><path d="M507.5 304.6V306.6"/><path d="M509.5 304.6V306.6"/><path d="M511.5 304.6V306.6"/><path d="M513.5 304.6V306.6"/><path d="M514.5 304.6V306.6"/><path d="M515.5 304.6V306.6"/><path d="M516.5 304.6V306.6"/></g>
<rect x="405.6" y="304.6" width="4.9" height="2.4" fill="#333"/>
<g stroke="#3a3a3a" stroke-width="0.8"><path d="M388.5 304.6v2"/><path d="M391.5 304.6v2"/><path d="M394.5 304.6v2"/><path d="M397.5 304.6v2"/><path d="M400.5 304.6v2"/><path d="M403.5 304.6v2"/><path d="M411.5 304.6v2"/></g>
<path d="M394.5 304.0 L396.5 296.0 L398.7 289.0 L400.8 286.9 L402.9 288.6 L404.8 282.0 L406.6 275.5 L409.1 280.7 L411.2 279.7 L414.3 271.4 L418.0 264.7 L421.5 271.4 L424.7 277.6 L427.8 272.4 L430.9 264.1 L432.3 253.2 L433.2 255.0 L434.4 261.2 L436.4 242.8 L438.5 219.9 L441.2 203.3 L443.3 209.5 L445.5 191.8 L446.8 211.6 L448.9 236.5 L452.0 223.0 L454.1 234.5 L456.2 251.1 L458.2 228.2 L460.3 201.2 L461.2 182.5 L463.0 211.6 L464.5 236.5 L465.9 255.2 L468.4 275.5 L471.5 289.0 L474.7 297.3 L477.4 299.4 L480.5 295.2 L483.0 299.4 L485.7 304.0Z" fill="#b6b6b6" stroke="#666" stroke-width="0.7" stroke-linejoin="round"/>
<path d="M385.80 304.00 C387.08 304.00 391.70 304.77 393.50 304.00 C395.30 303.23 395.57 300.93 396.60 299.40 C397.63 297.87 398.48 295.42 399.70 294.80 C400.92 294.18 402.85 296.15 403.90 295.70 C404.95 295.25 405.38 293.22 406.00 292.10 C406.62 290.98 406.92 289.00 407.60 289.00 C408.28 289.00 409.33 292.52 410.10 292.10 C410.87 291.68 411.33 287.70 412.20 286.50 C413.07 285.30 414.43 284.65 415.30 284.90 C416.17 285.15 416.53 285.58 417.40 288.00 C418.27 290.42 419.63 296.82 420.50 299.40 C421.37 301.98 421.90 303.50 422.60 303.50 C423.30 303.50 423.83 302.50 424.70 299.40 C425.57 296.30 426.93 288.37 427.80 284.90 C428.67 281.43 429.20 278.25 429.90 278.60 C430.60 278.95 431.28 283.70 432.00 287.00 C432.72 290.30 433.50 296.07 434.20 298.40 C434.90 300.73 435.45 301.87 436.20 301.00 C436.95 300.13 438.00 295.13 438.70 293.20 C439.40 291.27 439.70 288.88 440.40 289.40 C441.10 289.92 442.03 296.02 442.90 296.30 C443.77 296.58 444.63 293.28 445.60 291.10 C446.57 288.92 447.83 284.65 448.70 283.20 C449.57 281.75 450.10 282.75 450.80 282.40 C451.50 282.05 452.03 283.12 452.90 281.10 C453.77 279.08 455.15 273.83 456.00 270.30 C456.85 266.77 457.32 259.90 458.00 259.90 C458.68 259.90 459.40 267.00 460.10 270.30 C460.80 273.60 461.50 279.70 462.20 279.70 C462.90 279.70 463.50 274.47 464.30 270.30 C465.10 266.13 466.25 255.38 467.00 254.70 C467.75 254.02 468.28 263.08 468.80 266.20 C469.32 269.32 469.65 275.13 470.10 273.40 C470.55 271.67 471.02 262.20 471.50 255.80 C471.98 249.40 472.50 242.63 473.00 235.00 C473.50 227.37 474.00 217.50 474.50 210.00 C475.00 202.50 475.55 194.93 476.00 190.00 C476.45 185.07 476.80 180.07 477.20 180.40 C477.60 180.73 478.03 186.23 478.40 192.00 C478.77 197.77 479.15 207.83 479.40 215.00 C479.65 222.17 479.65 228.55 479.90 235.00 C480.15 241.45 480.38 248.17 480.90 253.70 C481.42 259.23 482.32 264.40 483.00 268.20 C483.68 272.00 484.32 273.38 485.00 276.50 C485.68 279.62 486.40 283.78 487.10 286.90 C487.80 290.02 488.43 292.77 489.20 295.20 C489.97 297.63 490.83 300.03 491.70 301.50 C492.57 302.97 490.12 303.58 494.40 304.00 C498.68 304.42 513.57 304.00 517.40 304.00" fill="none" stroke="#000" stroke-width="2.5" stroke-linejoin="round"/>
<rect x="389.8" y="177.5" width="20.5" height="3.9" fill="#000"/>
<rect x="390.1" y="190.6" width="20" height="6" fill="#b0b0b0" stroke="#666" stroke-width="0.8"/>
<path d="M372.40 259.00V315.85H430.90" fill="none" stroke="#000" stroke-width="1.15"/><path d="M372.40 253.00l-4.65 9.4h9.3z" fill="#000"/><path d="M436.90 315.85l-9.4 -4.65v9.3z" fill="#000"/>
<text x="4.4" y="20.9" font-size="28.6" font-weight="bold" text-anchor="start">A</text>
<text x="3.8" y="190.4" font-size="26.8" font-weight="bold" text-anchor="start">B</text>
<text x="182.6" y="21.0" font-size="27.0" font-weight="bold" text-anchor="start">C</text>
<text x="360.4" y="20.3" font-size="27.0" font-weight="bold" text-anchor="start">D</text>
<text x="362.1" y="191.0" font-size="26.4" font-weight="bold" text-anchor="start">E</text>
<text x="23.3" y="164.8" font-size="17.1" font-weight="normal" text-anchor="start">CD135</text>
<text x="13.3" y="138.2" font-size="17.0" font-weight="normal" text-anchor="start" transform="rotate(-90 13.3 138.2)">CD27</text>
<text x="16.0" y="308.4" font-size="16.8" font-weight="normal" text-anchor="start" transform="rotate(-90 16.0 308.4)">cell #</text>
<text x="20.7" y="334.3" font-size="16.5" font-weight="normal" text-anchor="start">Sca-1</text>
<text x="187.9" y="215.6" font-size="17.2" font-weight="normal" text-anchor="start" transform="rotate(-90 187.9 215.6)">CD27</text>
<text x="196.1" y="334.7" font-size="17.1" font-weight="normal" text-anchor="start">CCR9</text>
<text x="366.7" y="138.9" font-size="16.9" font-weight="normal" text-anchor="start" transform="rotate(-90 366.7 138.9)">rel. cell #</text>
<text x="373.5" y="165.1" font-size="16.8" font-weight="normal" text-anchor="start">CCR7</text>
<text x="366.4" y="310.7" font-size="16.9" font-weight="normal" text-anchor="start" transform="rotate(-90 366.4 310.7)">rel. cell #</text>
<text x="373.7" y="334.6" font-size="16.6" font-weight="normal" text-anchor="start">PSGL-1</text>
<text x="122.0" y="56.4" font-size="14.5" font-weight="normal" text-anchor="start">12.6</text>
<text x="306.6" y="55.2" font-size="14.2" font-weight="normal" text-anchor="start">0.8</text>
<text x="306.6" y="226.0" font-size="14.2" font-weight="normal" text-anchor="start">5.8</text>
<text x="322.3" y="184.0" font-size="14.6" font-weight="normal" text-anchor="start">wt</text>
<text x="283.3" y="16.2" font-size="14.5" font-weight="normal" text-anchor="start">CCR9<tspan font-size="10.4" dy="-4.4" dx="0.2">−/−</tspan></text>
<text x="461.7" y="23.4" font-size="15.0" font-weight="normal" text-anchor="start">wt</text>
<text x="461.2" y="38.0" font-size="14.8" font-weight="normal" text-anchor="start">CCR7<tspan font-size="10" dy="-4.4" dx="-0.2">−/−</tspan></text>
<text x="413.6" y="183.1" font-size="14.3" font-weight="normal" text-anchor="start">– <tspan x="426.1" y="183.5" font-size="14.5">EDTA</tspan></text>
<text x="414.3" y="198.6" font-size="14.3" font-weight="normal" text-anchor="start">+ <tspan x="426.1" y="198.5" font-size="14.5">EDTA</tspan></text>
</svg>
</body></html>
